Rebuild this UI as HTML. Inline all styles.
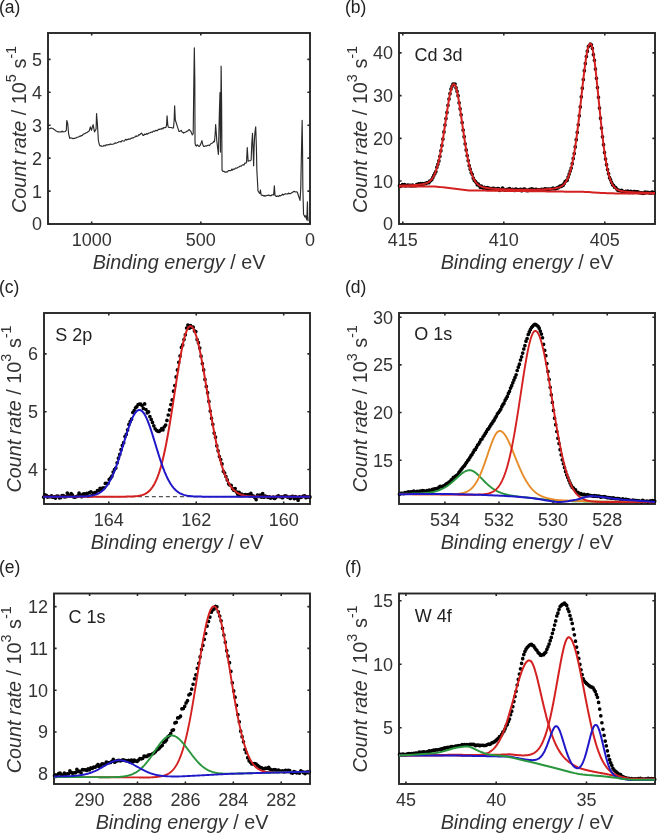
<!DOCTYPE html>
<html><head><meta charset="utf-8"><style>
html,body{margin:0;padding:0;background:#fff;}
svg{display:block;font-family:"Liberation Sans",sans-serif;will-change:transform;}
</style></head><body>
<svg width="658" height="834" viewBox="0 0 658 834" font-family="Liberation Sans">
<rect x="48" y="33" width="262" height="191" fill="none" stroke="#262626" stroke-width="1.9"/>
<path d="M91.67,224v-2.6 M91.67,33v2.6 M200.83,224v-2.6 M200.83,33v2.6 M310,224v-2.6 M310,33v2.6 M48,224h2.6 M310,224h-2.6 M48,191.08h2.6 M310,191.08h-2.6 M48,158.16h2.6 M310,158.16h-2.6 M48,125.24h2.6 M310,125.24h-2.6 M48,92.32h2.6 M310,92.32h-2.6 M48,59.4h2.6 M310,59.4h-2.6" stroke="#262626" stroke-width="1.6" fill="none"/>
<text x="91.67" y="245.9" text-anchor="middle" font-size="18" fill="#333">1000</text>
<text x="200.83" y="245.9" text-anchor="middle" font-size="18" fill="#333">500</text>
<text x="310" y="245.9" text-anchor="middle" font-size="18" fill="#333">0</text>
<text x="42" y="230.45" text-anchor="end" font-size="18" fill="#333">0</text>
<text x="42" y="197.53" text-anchor="end" font-size="18" fill="#333">1</text>
<text x="42" y="164.61" text-anchor="end" font-size="18" fill="#333">2</text>
<text x="42" y="131.69" text-anchor="end" font-size="18" fill="#333">3</text>
<text x="42" y="98.77" text-anchor="end" font-size="18" fill="#333">4</text>
<text x="42" y="65.85" text-anchor="end" font-size="18" fill="#333">5</text>
<text x="179" y="268.7" text-anchor="middle" font-size="19.8" fill="#333"><tspan font-style="italic">Binding energy</tspan> / eV</text>
<text transform="translate(25.8,213) rotate(-90)" x="0" y="0" font-size="19.8" fill="#333"><tspan font-style="italic">Count rate</tspan> / 10<tspan font-size="14.4" dy="-10.2">5</tspan><tspan dy="10.2"> s</tspan><tspan font-size="14.4" dy="-10.2">-1</tspan></text>
<text x="-1" y="13.2" font-size="17.5" fill="#222">(a)</text>
<rect x="399" y="33" width="256" height="191" fill="none" stroke="#262626" stroke-width="1.9"/>
<path d="M402.8,224v-2.6 M402.8,33v2.6 M503.8,224v-2.6 M503.8,33v2.6 M604.8,224v-2.6 M604.8,33v2.6 M399,223.8h2.6 M655,223.8h-2.6 M399,181.07h2.6 M655,181.07h-2.6 M399,138.34h2.6 M655,138.34h-2.6 M399,95.61h2.6 M655,95.61h-2.6 M399,52.88h2.6 M655,52.88h-2.6" stroke="#262626" stroke-width="1.6" fill="none"/>
<text x="402.8" y="245.9" text-anchor="middle" font-size="18" fill="#333">415</text>
<text x="503.8" y="245.9" text-anchor="middle" font-size="18" fill="#333">410</text>
<text x="604.8" y="245.9" text-anchor="middle" font-size="18" fill="#333">405</text>
<text x="393" y="230.25" text-anchor="end" font-size="18" fill="#333">0</text>
<text x="393" y="187.52" text-anchor="end" font-size="18" fill="#333">10</text>
<text x="393" y="144.79" text-anchor="end" font-size="18" fill="#333">20</text>
<text x="393" y="102.06" text-anchor="end" font-size="18" fill="#333">30</text>
<text x="393" y="59.33" text-anchor="end" font-size="18" fill="#333">40</text>
<text x="527" y="268.7" text-anchor="middle" font-size="19.8" fill="#333"><tspan font-style="italic">Binding energy</tspan> / eV</text>
<text transform="translate(366.7,213) rotate(-90)" x="0" y="0" font-size="19.8" fill="#333"><tspan font-style="italic">Count rate</tspan> / 10<tspan font-size="14.4" dy="-10.2">3</tspan><tspan dy="10.2"> s</tspan><tspan font-size="14.4" dy="-10.2">-1</tspan></text>
<text x="345" y="13.2" font-size="17.5" fill="#222">(b)</text>
<rect x="44" y="313" width="266" height="191" fill="none" stroke="#262626" stroke-width="1.9"/>
<path d="M108.8,504v-2.6 M108.8,313v2.6 M196.24,504v-2.6 M196.24,313v2.6 M283.68,504v-2.6 M283.68,313v2.6 M44,469.5h2.6 M310,469.5h-2.6 M44,411.7h2.6 M310,411.7h-2.6 M44,353.9h2.6 M310,353.9h-2.6" stroke="#262626" stroke-width="1.6" fill="none"/>
<text x="108.8" y="525.9" text-anchor="middle" font-size="18" fill="#333">164</text>
<text x="196.24" y="525.9" text-anchor="middle" font-size="18" fill="#333">162</text>
<text x="283.68" y="525.9" text-anchor="middle" font-size="18" fill="#333">160</text>
<text x="38" y="475.95" text-anchor="end" font-size="18" fill="#333">4</text>
<text x="38" y="418.15" text-anchor="end" font-size="18" fill="#333">5</text>
<text x="38" y="360.35" text-anchor="end" font-size="18" fill="#333">6</text>
<text x="177" y="548.7" text-anchor="middle" font-size="19.8" fill="#333"><tspan font-style="italic">Binding energy</tspan> / eV</text>
<text transform="translate(21.4,492.5) rotate(-90)" x="0" y="0" font-size="19.8" fill="#333"><tspan font-style="italic">Count rate</tspan> / 10<tspan font-size="14.4" dy="-10.2">3</tspan><tspan dy="10.2"> s</tspan><tspan font-size="14.4" dy="-10.2">-1</tspan></text>
<text x="-1" y="293.2" font-size="17.5" fill="#222">(c)</text>
<rect x="399" y="313" width="256" height="191" fill="none" stroke="#262626" stroke-width="1.9"/>
<path d="M444.9,504v-2.6 M444.9,313v2.6 M499,504v-2.6 M499,313v2.6 M553.1,504v-2.6 M553.1,313v2.6 M607.2,504v-2.6 M607.2,313v2.6 M399,460.2h2.6 M655,460.2h-2.6 M399,412.55h2.6 M655,412.55h-2.6 M399,364.9h2.6 M655,364.9h-2.6 M399,317.25h2.6 M655,317.25h-2.6" stroke="#262626" stroke-width="1.6" fill="none"/>
<text x="444.9" y="525.9" text-anchor="middle" font-size="18" fill="#333">534</text>
<text x="499" y="525.9" text-anchor="middle" font-size="18" fill="#333">532</text>
<text x="553.1" y="525.9" text-anchor="middle" font-size="18" fill="#333">530</text>
<text x="607.2" y="525.9" text-anchor="middle" font-size="18" fill="#333">528</text>
<text x="393" y="466.65" text-anchor="end" font-size="18" fill="#333">15</text>
<text x="393" y="419" text-anchor="end" font-size="18" fill="#333">20</text>
<text x="393" y="371.35" text-anchor="end" font-size="18" fill="#333">25</text>
<text x="393" y="323.7" text-anchor="end" font-size="18" fill="#333">30</text>
<text x="527" y="548.7" text-anchor="middle" font-size="19.8" fill="#333"><tspan font-style="italic">Binding energy</tspan> / eV</text>
<text transform="translate(366.7,492.2) rotate(-90)" x="0" y="0" font-size="19.8" fill="#333"><tspan font-style="italic">Count rate</tspan> / 10<tspan font-size="14.4" dy="-10.2">3</tspan><tspan dy="10.2"> s</tspan><tspan font-size="14.4" dy="-10.2">-1</tspan></text>
<text x="345" y="293.2" font-size="17.5" fill="#222">(d)</text>
<rect x="54" y="593.5" width="256" height="190.5" fill="none" stroke="#262626" stroke-width="1.9"/>
<path d="M89.6,784v-2.6 M89.6,593.5v2.6 M137.5,784v-2.6 M137.5,593.5v2.6 M185.4,784v-2.6 M185.4,593.5v2.6 M233.3,784v-2.6 M233.3,593.5v2.6 M281.2,784v-2.6 M281.2,593.5v2.6 M54,773.8h2.6 M310,773.8h-2.6 M54,732h2.6 M310,732h-2.6 M54,690.2h2.6 M310,690.2h-2.6 M54,648.4h2.6 M310,648.4h-2.6 M54,606.6h2.6 M310,606.6h-2.6" stroke="#262626" stroke-width="1.6" fill="none"/>
<text x="89.6" y="805.9" text-anchor="middle" font-size="18" fill="#333">290</text>
<text x="137.5" y="805.9" text-anchor="middle" font-size="18" fill="#333">288</text>
<text x="185.4" y="805.9" text-anchor="middle" font-size="18" fill="#333">286</text>
<text x="233.3" y="805.9" text-anchor="middle" font-size="18" fill="#333">284</text>
<text x="281.2" y="805.9" text-anchor="middle" font-size="18" fill="#333">282</text>
<text x="48" y="780.25" text-anchor="end" font-size="18" fill="#333">8</text>
<text x="48" y="738.45" text-anchor="end" font-size="18" fill="#333">9</text>
<text x="48" y="696.65" text-anchor="end" font-size="18" fill="#333">10</text>
<text x="48" y="654.85" text-anchor="end" font-size="18" fill="#333">11</text>
<text x="48" y="613.05" text-anchor="end" font-size="18" fill="#333">12</text>
<text x="182" y="828.7" text-anchor="middle" font-size="19.8" fill="#333"><tspan font-style="italic">Binding energy</tspan> / eV</text>
<text transform="translate(21.4,773.3) rotate(-90)" x="0" y="0" font-size="19.8" fill="#333"><tspan font-style="italic">Count rate</tspan> / 10<tspan font-size="14.4" dy="-10.2">3</tspan><tspan dy="10.2"> s</tspan><tspan font-size="14.4" dy="-10.2">-1</tspan></text>
<text x="-1" y="573.2" font-size="17.5" fill="#222">(e)</text>
<rect x="399" y="593.5" width="256" height="190.5" fill="none" stroke="#262626" stroke-width="1.9"/>
<path d="M405.9,784v-2.6 M405.9,593.5v2.6 M496.2,784v-2.6 M496.2,593.5v2.6 M586.5,784v-2.6 M586.5,593.5v2.6 M399,727.8h2.6 M655,727.8h-2.6 M399,664.3h2.6 M655,664.3h-2.6 M399,600.8h2.6 M655,600.8h-2.6" stroke="#262626" stroke-width="1.6" fill="none"/>
<text x="405.9" y="805.9" text-anchor="middle" font-size="18" fill="#333">45</text>
<text x="496.2" y="805.9" text-anchor="middle" font-size="18" fill="#333">40</text>
<text x="586.5" y="805.9" text-anchor="middle" font-size="18" fill="#333">35</text>
<text x="393" y="734.25" text-anchor="end" font-size="18" fill="#333">5</text>
<text x="393" y="670.75" text-anchor="end" font-size="18" fill="#333">10</text>
<text x="393" y="607.25" text-anchor="end" font-size="18" fill="#333">15</text>
<text x="527" y="828.7" text-anchor="middle" font-size="19.8" fill="#333"><tspan font-style="italic">Binding energy</tspan> / eV</text>
<text transform="translate(366.7,772.5) rotate(-90)" x="0" y="0" font-size="19.8" fill="#333"><tspan font-style="italic">Count rate</tspan> / 10<tspan font-size="14.4" dy="-10.2">3</tspan><tspan dy="10.2"> s</tspan><tspan font-size="14.4" dy="-10.2">-1</tspan></text>
<text x="345" y="573.2" font-size="17.5" fill="#222">(f)</text>
<path d="M48,129.18 L48.86,128.8 L49.72,128.78 L50.58,128.24 L51.43,128.03 L52.2,128.3 L52.96,128.47 L53.72,129.18 L54.58,129.67 L55.44,130.71 L56.3,131.04 L57.16,131.47 L58.02,131.94 L58.88,131.78 L59.74,131.95 L60.59,131.92 L61.36,131.91 L62.12,131.19 L62.88,131.99 L63.65,131.8 L64.41,131.72 L65.17,131.47 L66.32,130.32 L66.78,120.47 L67.69,123.45 L68.61,133.76 L69.75,138.34 L70.61,137.86 L71.47,137.95 L72.33,138.37 L73.19,138.79 L73.95,138.36 L74.72,138.37 L75.48,137.98 L76.24,137.91 L77.01,137.23 L77.77,137.19 L78.53,136.92 L79.3,136.57 L80.06,135.81 L80.82,136.27 L81.59,135.48 L82.35,135.32 L83.11,134.3 L83.88,133.88 L84.64,133.76 L85.4,133.18 L86.17,132.8 L86.93,132.6 L87.69,132.01 L88.45,131.31 L89.22,131.01 L90.36,126.89 L91.51,130.32 L92.31,127.12 L93.11,124.6 L94.49,131.92 L95.29,130.37 L96.09,129.18 L96.55,113.6 L97.46,124.6 L98.38,140.63 L99.52,145.21 L100.29,146.01 L101.05,145.69 L101.81,146.35 L102.52,146.27 L103.23,146.17 L103.94,145.34 L104.65,145.71 L105.36,145.99 L106.07,144.66 L106.77,145.09 L107.48,145 L108.19,144.59 L108.9,144.89 L109.61,144.53 L110.32,143.87 L111.03,144.51 L111.74,144.29 L112.44,144.23 L113.15,144.24 L113.86,143.7 L114.57,143.45 L115.28,142.79 L115.99,143.29 L116.7,142.92 L117.41,142.49 L118.13,142.33 L118.84,141.83 L119.56,141.72 L120.28,141.66 L120.99,142.08 L121.71,140.7 L122.42,140.69 L123.14,141.07 L123.85,141.27 L124.57,140.76 L125.28,139.67 L126,139.24 L126.72,140.03 L127.43,139.44 L128.15,139.48 L128.86,138.8 L129.58,139.25 L130.29,139.01 L131.01,138.39 L131.72,138.14 L132.44,137.92 L133.16,138.03 L133.87,137.41 L134.59,137.09 L135.3,136.81 L136.02,135.78 L136.73,136.49 L137.45,136.09 L138.16,135.66 L138.88,134.5 L139.6,134.9 L140.74,133.76 L141.43,133.07 L142.23,133.99 L143.03,135.36 L143.76,135.36 L144.49,134.14 L145.22,134.42 L145.95,134.55 L146.67,133.44 L147.4,134.17 L148.13,133.51 L148.86,132.97 L149.59,132.85 L150.32,132.67 L151.05,132.15 L151.75,131.97 L152.46,132.1 L153.17,131.23 L153.88,131.09 L154.59,131.37 L155.3,130.79 L156.01,130.24 L156.72,130.65 L157.42,130.6 L158.13,129.71 L158.84,129.15 L159.55,129.36 L160.26,129.12 L160.97,128.84 L161.68,129.21 L162.39,128.13 L163.09,128.7 L163.8,127.59 L164.51,127.53 L165.22,127.79 L165.93,127.34 L166.62,124.6 L167.07,115.89 L167.76,124.6 L168.22,126.89 L168.97,127.44 L169.72,127.51 L170.48,127.5 L171.23,127.59 L171.98,127.76 L172.73,128.07 L173.49,128.03 L174.17,120.02 L174.63,105.82 L175.32,120.02 L176.05,122.24 L176.79,124.69 L177.53,127.09 L178.26,129.18 L179,131.47 L179.76,131.35 L180.53,130.9 L181.29,130.32 L182.05,131.94 L182.82,132.27 L183.58,133.07 L184.34,132.54 L185.11,132.18 L185.87,131.92 L186.73,131.35 L187.59,131.1 L188.45,130.09 L189.3,129.63 L190.11,130.68 L190.91,131.47 L192.28,134.9 L193.2,133.76 L193.88,78.8 L194.34,47.88 L194.8,78.8 L195.03,142.92 L195.49,145.21 L196.31,146.08 L197.14,144.77 L197.96,145.5 L198.78,146.21 L199.61,146.35 L200.75,144.06 L201.9,140.63 L202.81,144.75 L203.73,146.35 L204.45,146.33 L205.17,146.11 L205.89,145.71 L206.61,145.93 L207.33,145.63 L208.05,145.19 L208.77,145.21 L209.48,145.63 L210.2,144.47 L210.92,143.72 L211.63,143.45 L212.35,142.98 L213.06,142.61 L213.78,141.24 L214.49,141.77 L215.18,133.76 L215.64,124.6 L216.33,133.76 L216.78,140.63 L217.58,147.32 L218.39,154.36 L218.84,136.05 L219.3,115.44 L219.99,92.54 L220.45,152.07 L220.68,124.6 L221.13,66.2 L221.59,101.7 L222.05,170.39 L222.97,171.36 L223.88,171.21 L224.8,172.23 L225.5,171.97 L226.21,172.1 L226.91,171.84 L227.62,171.83 L228.32,170.49 L229.03,170.73 L229.73,170.5 L230.43,170.61 L231.14,170.55 L231.84,169 L232.55,170.09 L233.25,168.97 L233.96,169.25 L234.66,169.14 L235.37,168.02 L236.07,168.25 L236.78,168.26 L237.48,167.44 L238.19,167.2 L238.89,167.06 L239.59,166.48 L240.3,166.05 L241,166.26 L241.71,165.74 L242.41,164.92 L243.12,164.67 L243.98,165.06 L244.83,163.12 L245.69,163.27 L246.55,162.38 L247.24,147.5 L248.16,161.23 L248.9,160.86 L249.64,160.71 L250.39,160.62 L251.13,160.09 L251.82,142.92 L252.51,133.3 L253.19,152.07 L253.65,165.81 L254.11,147.5 L254.57,137.19 L255.02,131.47 L255.71,126.89 L256.4,147.5 L256.86,170.39 L258,191 L258.8,192.23 L259.6,193.29 L259.74,193.45 L260.43,189.97 L261.13,194.84 L262.05,195.53 L262.98,195.23 L263.91,196.23 L264.74,195.56 L265.58,196.17 L266.41,195.48 L267.25,195.32 L268.08,195.54 L268.88,194.92 L269.67,195.78 L270.46,195.5 L271.26,195.65 L272.05,194.71 L272.85,194.94 L273.64,194.84 L274.34,185.8 L275.03,195.54 L276.43,196.51 L277.18,195.89 L277.94,196.35 L278.7,196.42 L279.46,195.34 L280.22,195.98 L280.98,195.57 L281.74,194.94 L282.49,194.1 L283.25,195.07 L284.01,194.33 L284.77,194.14 L285.54,193.78 L286.32,193.98 L287.09,193.82 L287.86,194.05 L288.63,193.01 L289.41,193.62 L290.18,193.58 L290.95,193.42 L291.72,192.75 L292.65,192.23 L293.58,191.57 L294.51,191.36 L295.43,191.95 L296.36,191.87 L297.29,192.06 L298.68,196.23 L300.07,200.4 L300.76,187.89 L301.18,165.63 L302.16,120.43 L302.57,151.72 L302.85,187.89 L303.55,214.31 L304.94,217.09 L305.63,215.7 L306.33,218.48 L306.75,219.87 L307.02,212.92 L307.44,201.79 L307.72,215.7 L308.14,221.27" stroke="#2a2a2a" stroke-width="1.15" fill="none" stroke-linejoin="round" />
<path d="M399.5,185.72h0 M400.51,186.28h0 M401.52,185.5h0 M402.53,184.55h0 M403.54,185.38h0 M404.55,184.69h0 M405.56,185.86h0 M406.57,185.6h0 M407.58,185.14h0 M408.59,185.37h0 M409.6,185.7h0 M410.61,185.32h0 M411.62,185.83h0 M412.63,185.15h0 M413.64,185.59h0 M414.65,185.73h0 M415.66,185.71h0 M416.67,184.61h0 M417.68,185.22h0 M418.69,183.89h0 M419.7,184.14h0 M420.71,183.62h0 M421.72,184.84h0 M422.73,183.64h0 M423.74,183.98h0 M424.75,183.65h0 M425.76,183.42h0 M426.77,182.78h0 M427.78,182.67h0 M428.79,182.77h0 M429.8,181.22h0 M430.81,180.49h0 M431.82,179.51h0 M432.83,177.51h0 M433.84,175.24h0 M434.85,173.38h0 M435.86,171.51h0 M436.87,167.29h0 M437.88,164.26h0 M438.89,160.94h0 M439.9,156.25h0 M440.91,150.75h0 M441.92,145.44h0 M442.93,139.03h0 M443.94,131.93h0 M444.95,125h0 M445.96,118.55h0 M446.97,112.44h0 M447.98,105.23h0 M448.99,99.01h0 M450,93.72h0 M451.01,88.98h0 M452.02,86.37h0 M453.03,84.01h0 M454.04,84.26h0 M455.05,84.11h0 M456.06,87.85h0 M457.07,91.28h0 M458.08,95.67h0 M459.09,102.73h0 M460.1,108.78h0 M461.11,114.8h0 M462.12,122.49h0 M463.13,130.08h0 M464.14,136.64h0 M465.15,143.78h0 M466.16,149.93h0 M467.17,155.57h0 M468.18,160.57h0 M469.19,165.59h0 M470.2,169.22h0 M471.21,172.53h0 M472.22,174.29h0 M473.23,178.08h0 M474.24,180.3h0 M475.25,181.26h0 M476.26,182.55h0 M477.27,184.75h0 M478.28,183.99h0 M479.29,185.71h0 M480.3,187.17h0 M481.31,186.14h0 M482.32,187.25h0 M483.33,188.1h0 M484.34,187.45h0 M485.35,187.98h0 M486.36,188.31h0 M487.37,187.66h0 M488.38,188.17h0 M489.39,188.46h0 M490.4,188.82h0 M491.41,188.53h0 M492.42,188.55h0 M493.43,188.27h0 M494.44,188.64h0 M495.45,189.28h0 M496.46,188.99h0 M497.47,188.63h0 M498.48,188.69h0 M499.49,190.33h0 M500.5,189.69h0 M501.51,189.52h0 M502.52,188.11h0 M503.53,189.6h0 M504.54,189.58h0 M505.55,190.16h0 M506.56,189.63h0 M507.57,189.44h0 M508.58,189.73h0 M509.59,188.65h0 M510.6,190.02h0 M511.61,189.73h0 M512.62,189.29h0 M513.63,190.22h0 M514.64,190.46h0 M515.65,189.03h0 M516.66,189.38h0 M517.67,189.82h0 M518.68,189.79h0 M519.69,189.54h0 M520.7,189.29h0 M521.71,190.69h0 M522.72,190.21h0 M523.73,189.21h0 M524.74,189.14h0 M525.75,190.52h0 M526.76,190.19h0 M527.77,190.56h0 M528.78,190.11h0 M529.79,189.34h0 M530.8,189.84h0 M531.81,188.74h0 M532.82,189.37h0 M533.83,189.66h0 M534.84,189.91h0 M535.85,189.32h0 M536.86,189.57h0 M537.87,189.81h0 M538.88,189.75h0 M539.89,189.83h0 M540.9,189.61h0 M541.91,189.33h0 M542.92,189.79h0 M543.93,189.41h0 M544.94,188.96h0 M545.95,189h0 M546.96,189.22h0 M547.97,189.1h0 M548.98,189.15h0 M549.99,188.99h0 M551,188.98h0 M552.01,188.73h0 M553.02,188.11h0 M554.03,188.72h0 M555.04,188.85h0 M556.05,188.38h0 M557.06,187.86h0 M558.07,187.87h0 M559.08,186.9h0 M560.09,186.06h0 M561.1,186.43h0 M562.11,185.34h0 M563.12,185.3h0 M564.13,183.49h0 M565.14,181.58h0 M566.15,180.8h0 M567.16,180.16h0 M568.17,177.07h0 M569.18,173.98h0 M570.19,171.11h0 M571.2,167.99h0 M572.21,163.69h0 M573.22,158.6h0 M574.23,153.59h0 M575.24,146.96h0 M576.25,139.69h0 M577.26,132.4h0 M578.27,124.74h0 M579.28,115.84h0 M580.29,106.92h0 M581.3,96.84h0 M582.31,88.14h0 M583.32,79.61h0 M584.33,70.68h0 M585.34,63.53h0 M586.35,56.53h0 M587.36,51.15h0 M588.37,46.58h0 M589.38,45.39h0 M590.39,44.14h0 M591.4,44.81h0 M592.41,48.32h0 M593.42,54.7h0 M594.43,60.26h0 M595.44,69h0 M596.45,78.23h0 M597.46,87.62h0 M598.47,97.26h0 M599.48,108.07h0 M600.49,118.13h0 M601.5,128.01h0 M602.51,136.81h0 M603.52,144.71h0 M604.53,152.53h0 M605.54,159.02h0 M606.55,164.66h0 M607.56,169.59h0 M608.57,173.69h0 M609.58,177.66h0 M610.59,179.82h0 M611.6,182.4h0 M612.61,184.63h0 M613.62,185.52h0 M614.63,187.22h0 M615.64,187.49h0 M616.65,188.86h0 M617.66,190.01h0 M618.67,190.47h0 M619.68,190.54h0 M620.69,190.75h0 M621.7,190.45h0 M622.71,192.1h0 M623.72,191.66h0 M624.73,192.06h0 M625.74,191.29h0 M626.75,191.7h0 M627.76,191.06h0 M628.77,192.31h0 M629.78,192.46h0 M630.79,191.25h0 M631.8,192.15h0 M632.81,192.52h0 M633.82,191.5h0 M634.83,191.52h0 M635.84,191.92h0 M636.85,192.16h0 M637.86,191.86h0 M638.87,192.54h0 M639.88,192.68h0 M640.89,192.89h0 M641.9,192.96h0 M642.91,193.36h0 M643.92,193.24h0 M644.93,192.15h0 M645.94,192.55h0 M646.95,192.32h0 M647.96,192.34h0 M648.97,192.82h0 M649.98,192.88h0 M650.99,193.12h0 M652,192.21h0 M653.01,192.39h0 M654.02,192.96h0" stroke="#000" stroke-width="3.7" stroke-linecap="round" fill="none"/>
<path d="M399,185.68 L399.5,185.67 L400,185.65 L400.5,185.64 L401,185.63 L401.5,185.61 L402,185.6 L402.5,185.59 L403,185.57 L403.5,185.56 L404,185.54 L404.5,185.53 L405,185.51 L405.5,185.49 L406,185.47 L406.5,185.46 L407,185.44 L407.5,185.42 L408,185.4 L408.5,185.38 L409,185.36 L409.5,185.33 L410,185.31 L410.5,185.29 L411,185.26 L411.5,185.24 L412,185.21 L412.5,185.18 L413,185.16 L413.5,185.13 L414,185.1 L414.5,185.06 L415,185.03 L415.5,185 L416,184.96 L416.5,184.92 L417,184.88 L417.5,184.84 L418,184.8 L418.5,184.75 L419,184.7 L419.5,184.65 L420,184.59 L420.5,184.53 L421,184.46 L421.5,184.39 L422,184.32 L422.5,184.23 L423,184.14 L423.5,184.04 L424,183.93 L424.5,183.8 L425,183.67 L425.5,183.52 L426,183.35 L426.5,183.16 L427,182.95 L427.5,182.71 L428,182.45 L428.5,182.15 L429,181.82 L429.5,181.44 L430,181.03 L430.5,180.56 L431,180.04 L431.5,179.47 L432,178.82 L432.5,178.11 L433,177.32 L433.5,176.45 L434,175.49 L434.5,174.43 L435,173.27 L435.5,172 L436,170.62 L436.5,169.18 L437,167.61 L437.5,165.91 L438,164.08 L438.5,162.12 L439,160.02 L439.5,157.78 L440,155.41 L440.5,152.9 L441,150.26 L441.5,147.5 L442,144.61 L442.5,141.62 L443,138.52 L443.5,135.33 L444,132.06 L444.5,128.74 L445,125.36 L445.5,121.96 L446,118.56 L446.5,115.17 L447,111.83 L447.5,108.55 L448,105.36 L448.5,102.29 L449,99.36 L449.5,96.61 L450,94.07 L450.5,91.76 L451,89.7 L451.5,87.94 L452,86.48 L452.5,85.35 L453,84.57 L453.5,84.15 L454,84.09 L454.5,84.4 L455,85.08 L455.5,86.12 L456,87.52 L456.5,89.23 L457,91.26 L457.5,93.56 L458,96.11 L458.5,98.89 L459,101.85 L459.5,104.98 L460,108.24 L460.5,111.6 L461,115.04 L461.5,118.53 L462,122.04 L462.5,125.56 L463,129.05 L463.5,132.51 L464,135.9 L464.5,139.23 L465,142.47 L465.5,145.61 L466,148.64 L466.5,151.56 L467,154.35 L467.5,157.01 L468,159.54 L468.5,161.93 L469,164.19 L469.5,166.26 L470,168.19 L470.5,169.99 L471,171.66 L471.5,173.21 L472,174.64 L472.5,175.95 L473,177.15 L473.5,178.25 L474,179.26 L474.5,180.17 L475,181 L475.5,181.76 L476,182.44 L476.5,183.05 L477,183.6 L477.5,184.1 L478,184.55 L478.5,184.95 L479,185.31 L479.5,185.63 L480,185.92 L480.5,186.18 L481,186.42 L481.5,186.63 L482,186.82 L482.5,187 L483,187.15 L483.5,187.29 L484,187.42 L484.5,187.54 L485,187.65 L485.5,187.75 L486,187.85 L486.5,187.93 L487,188.01 L487.5,188.09 L488,188.16 L488.5,188.22 L489,188.29 L489.5,188.35 L490,188.4 L490.5,188.46 L491,188.51 L491.5,188.56 L492,188.6 L492.5,188.65 L493,188.69 L493.5,188.73 L494,188.77 L494.5,188.81 L495,188.85 L495.5,188.88 L496,188.92 L496.5,188.95 L497,188.98 L497.5,189.01 L498,189.04 L498.5,189.07 L499,189.1 L499.5,189.13 L500,189.15 L500.5,189.18 L501,189.21 L501.5,189.23 L502,189.25 L502.5,189.28 L503,189.3 L503.5,189.32 L504,189.34 L504.5,189.36 L505,189.38 L505.5,189.4 L506,189.41 L506.5,189.43 L507,189.45 L507.5,189.46 L508,189.48 L508.5,189.5 L509,189.51 L509.5,189.52 L510,189.54 L510.5,189.55 L511,189.56 L511.5,189.58 L512,189.59 L512.5,189.6 L513,189.61 L513.5,189.62 L514,189.63 L514.5,189.64 L515,189.65 L515.5,189.66 L516,189.67 L516.5,189.68 L517,189.68 L517.5,189.69 L518,189.7 L518.5,189.7 L519,189.71 L519.5,189.71 L520,189.72 L520.5,189.72 L521,189.73 L521.5,189.73 L522,189.74 L522.5,189.74 L523,189.74 L523.5,189.74 L524,189.75 L524.5,189.75 L525,189.75 L525.5,189.75 L526,189.75 L526.5,189.75 L527,189.75 L527.5,189.75 L528,189.74 L528.5,189.74 L529,189.74 L529.5,189.74 L530,189.73 L530.5,189.73 L531,189.72 L531.5,189.72 L532,189.71 L532.5,189.71 L533,189.7 L533.5,189.69 L534,189.69 L534.5,189.68 L535,189.67 L535.5,189.66 L536,189.65 L536.5,189.64 L537,189.63 L537.5,189.61 L538,189.6 L538.5,189.59 L539,189.57 L539.5,189.56 L540,189.54 L540.5,189.53 L541,189.51 L541.5,189.49 L542,189.47 L542.5,189.45 L543,189.43 L543.5,189.41 L544,189.38 L544.5,189.36 L545,189.33 L545.5,189.3 L546,189.28 L546.5,189.25 L547,189.22 L547.5,189.18 L548,189.15 L548.5,189.11 L549,189.07 L549.5,189.03 L550,188.99 L550.5,188.95 L551,188.9 L551.5,188.85 L552,188.79 L552.5,188.74 L553,188.68 L553.5,188.61 L554,188.54 L554.5,188.46 L555,188.38 L555.5,188.29 L556,188.19 L556.5,188.08 L557,187.96 L557.5,187.84 L558,187.69 L558.5,187.54 L559,187.36 L559.5,187.17 L560,186.96 L560.5,186.72 L561,186.46 L561.5,186.16 L562,185.84 L562.5,185.47 L563,185.07 L563.5,184.62 L564,184.12 L564.5,183.56 L565,182.95 L565.5,182.27 L566,181.51 L566.5,180.68 L567,179.76 L567.5,178.75 L568,177.64 L568.5,176.43 L569,175.1 L569.5,173.66 L570,172.09 L570.5,170.38 L571,168.54 L571.5,166.55 L572,164.41 L572.5,162.11 L573,159.66 L573.5,157.04 L574,154.26 L574.5,151.31 L575,148.19 L575.5,144.92 L576,141.48 L576.5,137.88 L577,134.13 L577.5,130.24 L578,126.22 L578.5,122.08 L579,117.82 L579.5,113.48 L580,109.05 L580.5,104.57 L581,100.05 L581.5,95.52 L582,90.99 L582.5,86.5 L583,82.07 L583.5,77.74 L584,73.52 L584.5,69.45 L585,65.57 L585.5,61.9 L586,58.48 L586.5,55.36 L587,52.55 L587.5,50.08 L588,47.98 L588.5,46.26 L589,44.96 L589.5,44.07 L590,43.62 L590.5,43.62 L591,44.13 L591.5,45.15 L592,46.67 L592.5,48.67 L593,51.14 L593.5,54.02 L594,57.31 L594.5,60.94 L595,64.9 L595.5,69.13 L596,73.6 L596.5,78.26 L597,83.08 L597.5,88.02 L598,93.03 L598.5,98.08 L599,103.15 L599.5,108.19 L600,113.17 L600.5,118.06 L601,122.85 L601.5,127.51 L602,132.02 L602.5,136.37 L603,140.55 L603.5,144.54 L604,148.34 L604.5,151.94 L605,155.34 L605.5,158.53 L606,161.52 L606.5,164.3 L607,166.89 L607.5,169.29 L608,171.5 L608.5,173.53 L609,175.4 L609.5,177.1 L610,178.65 L610.5,180.05 L611,181.32 L611.5,182.47 L612,183.51 L612.5,184.44 L613,185.27 L613.5,186.01 L614,186.68 L614.5,187.27 L615,187.8 L615.5,188.27 L616,188.69 L616.5,189.06 L617,189.4 L617.5,189.67 L618,189.92 L618.5,190.14 L619,190.34 L619.5,190.51 L620,190.67 L620.5,190.81 L621,190.93 L621.5,191.04 L622,191.14 L622.5,191.24 L623,191.32 L623.5,191.4 L624,191.47 L624.5,191.54 L625,191.6 L625.5,191.66 L626,191.71 L626.5,191.76 L627,191.81 L627.5,191.85 L628,191.9 L628.5,191.94 L629,191.98 L629.5,192.02 L630,192.05 L630.5,192.09 L631,192.12 L631.5,192.15 L632,192.19 L632.5,192.22 L633,192.25 L633.5,192.27 L634,192.3 L634.5,192.33 L635,192.35 L635.5,192.38 L636,192.4 L636.5,192.43 L637,192.45 L637.5,192.47 L638,192.49 L638.5,192.52 L639,192.54 L639.5,192.56 L640,192.58 L640.5,192.59 L641,192.61 L641.5,192.63 L642,192.65 L642.5,192.67 L643,192.68 L643.5,192.7 L644,192.71 L644.5,192.73 L645,192.75 L645.5,192.76 L646,192.78 L646.5,192.79 L647,192.8 L647.5,192.82 L648,192.83 L648.5,192.84 L649,192.86 L649.5,192.87 L650,192.88 L650.5,192.89 L651,192.9 L651.5,192.92 L652,192.93 L652.5,192.94 L653,192.95 L653.5,192.96 L654,192.97 L654.5,192.98 L655,192.99" stroke="#d42020" stroke-width="2.0" fill="none" stroke-linejoin="round" />
<path d="M399,186.5 L401,186.51 L403,186.51 L405,186.52 L407,186.52 L409,186.53 L411,186.53 L413,186.54 L415,186.54 L417,186.55 L419,186.55 L421,186.56 L423,186.56 L425,186.57 L427,186.58 L429,186.58 L431,186.59 L433,186.59 L435,186.6 L437,186.71 L439,186.92 L441,187.13 L443,187.34 L445,187.56 L447,187.77 L449,187.98 L451,188.19 L453,188.42 L455,188.67 L457,188.92 L459,189.16 L461,189.41 L463,189.66 L465,189.91 L467,190.15 L469,190.4 L471,190.43 L473,190.45 L475,190.48 L477,190.5 L479,190.53 L481,190.55 L483,190.58 L485,190.61 L487,190.63 L489,190.66 L491,190.68 L493,190.71 L495,190.73 L497,190.76 L499,190.78 L501,190.81 L503,190.84 L505,190.86 L507,190.89 L509,190.91 L511,190.94 L513,190.96 L515,190.99 L517,191.02 L519,191.04 L521,191.07 L523,191.09 L525,191.12 L527,191.14 L529,191.17 L531,191.19 L533,191.22 L535,191.25 L537,191.27 L539,191.3 L541,191.32 L543,191.35 L545,191.37 L547,191.4 L549,191.43 L551,191.45 L553,191.48 L555,191.5 L557,191.53 L559,191.55 L561,191.58 L563,191.61 L565,191.63 L567,191.66 L569,191.68 L571,191.71 L573,191.73 L575,191.76 L577,191.78 L579,191.81 L581,191.84 L583,191.86 L585,191.89 L587,191.97 L589,192.11 L591,192.26 L593,192.4 L595,192.54 L597,192.69 L599,192.83 L601,192.94 L603,193.01 L605,193.08 L607,193.15 L609,193.22 L611,193.29 L613,193.36 L615,193.43 L617,193.5 L619,193.51 L621,193.51 L623,193.52 L625,193.52 L627,193.53 L629,193.53 L631,193.54 L633,193.54 L635,193.55 L637,193.55 L639,193.56 L641,193.56 L643,193.57 L645,193.57 L647,193.58 L649,193.58 L651,193.59 L653,193.59 L655,193.6" stroke="#d42020" stroke-width="2.0" fill="none" stroke-linejoin="round" />
<path d="M309.91,496.67 L43.22,496.67" stroke="#555" stroke-width="1.2" fill="none" stroke-linejoin="round" stroke-dasharray="4,3"/>
<path d="M309.91,496.92h0 M308.6,497.06h0 M307.29,496.75h0 M305.98,497.63h0 M304.67,495.77h0 M303.35,496.22h0 M302.04,496.78h0 M300.73,497.52h0 M299.42,496.89h0 M298.11,500.13h0 M296.8,497.91h0 M295.48,496.62h0 M294.17,498.58h0 M292.86,496.41h0 M291.55,496.48h0 M290.24,498.42h0 M288.93,496.98h0 M287.61,497.07h0 M286.3,496.08h0 M284.99,495.89h0 M283.68,496.71h0 M282.37,497.75h0 M281.06,496.85h0 M279.75,496.75h0 M278.43,495.73h0 M277.12,496.29h0 M275.81,497.58h0 M274.5,498.39h0 M273.19,497.14h0 M271.88,497.61h0 M270.56,498.08h0 M269.25,496.81h0 M267.94,497.28h0 M266.63,496.52h0 M265.32,495.99h0 M264.01,497.18h0 M262.69,493.69h0 M261.38,497.04h0 M260.07,495.22h0 M258.76,496.46h0 M257.45,495.17h0 M256.14,499.59h0 M254.82,497.48h0 M253.51,496.17h0 M252.2,495.66h0 M250.89,493.38h0 M249.58,495.84h0 M248.27,494.5h0 M246.96,494.99h0 M245.64,494.56h0 M244.33,494.86h0 M243.02,495.4h0 M241.71,494.17h0 M240.4,495.71h0 M239.09,492.26h0 M237.77,494.35h0 M236.46,491.9h0 M235.15,488.51h0 M233.84,490.29h0 M232.53,488.57h0 M231.22,485.46h0 M229.9,484.98h0 M228.59,483.81h0 M227.28,479.9h0 M225.97,476.57h0 M224.66,473.11h0 M223.35,471.3h0 M222.03,463.96h0 M220.72,459.5h0 M219.41,456.59h0 M218.1,450.81h0 M216.79,445.8h0 M215.48,437.14h0 M214.17,433.12h0 M212.85,424.29h0 M211.54,418.37h0 M210.23,411h0 M208.92,401.39h0 M207.61,392.68h0 M206.3,386.46h0 M204.98,379.45h0 M203.67,369.89h0 M202.36,363.6h0 M201.05,356.15h0 M199.74,348.11h0 M198.43,342.71h0 M197.11,339.6h0 M195.8,331.59h0 M194.49,330.89h0 M193.18,327.2h0 M191.87,327.27h0 M190.56,325.71h0 M189.24,328.13h0 M187.93,325h0 M186.62,327.99h0 M185.31,334.75h0 M184,339.53h0 M182.69,344.92h0 M181.38,347.32h0 M180.06,355.91h0 M178.75,362.35h0 M177.44,369.88h0 M176.13,376.97h0 M174.82,385.5h0 M173.51,391.22h0 M172.19,399.9h0 M170.88,404.56h0 M169.57,409.94h0 M168.26,414.98h0 M166.95,420.42h0 M165.64,425.08h0 M164.32,426.76h0 M163.01,429.81h0 M161.7,428.66h0 M160.39,430.37h0 M159.08,431.47h0 M157.77,431.22h0 M156.45,430.23h0 M155.14,428.73h0 M153.83,425.78h0 M152.52,422.43h0 M151.21,419.43h0 M149.9,416.56h0 M148.59,411.84h0 M147.27,412.78h0 M145.96,409.49h0 M144.65,403.94h0 M143.34,408.28h0 M142.03,405.5h0 M140.72,404.1h0 M139.4,404.19h0 M138.09,404.55h0 M136.78,406.65h0 M135.47,407.74h0 M134.16,410.53h0 M132.85,412.5h0 M131.53,419.19h0 M130.22,421.59h0 M128.91,424.43h0 M127.6,429.93h0 M126.29,434.29h0 M124.98,436.6h0 M123.66,442.67h0 M122.35,445.46h0 M121.04,449.64h0 M119.73,454.4h0 M118.42,458.17h0 M117.11,462.76h0 M115.8,468.01h0 M114.48,469.6h0 M113.17,472.07h0 M111.86,476.15h0 M110.55,478.16h0 M109.24,479.38h0 M107.93,483.5h0 M106.61,483.38h0 M105.3,483.41h0 M103.99,487.87h0 M102.68,488.17h0 M101.37,489.57h0 M100.06,488.3h0 M98.74,490.6h0 M97.43,490.48h0 M96.12,493.03h0 M94.81,492.62h0 M93.5,492.99h0 M92.19,495.56h0 M90.87,491.74h0 M89.56,492.67h0 M88.25,496.24h0 M86.94,493.26h0 M85.63,494.54h0 M84.32,493.95h0 M83.01,494.2h0 M81.69,496.71h0 M80.38,495.2h0 M79.07,493.15h0 M77.76,495.9h0 M76.45,496.58h0 M75.14,497.12h0 M73.82,497.04h0 M72.51,495.16h0 M71.2,493.54h0 M69.89,495.23h0 M68.58,495.55h0 M67.27,493.11h0 M65.95,496.68h0 M64.64,496.95h0 M63.33,495.49h0 M62.02,495.52h0 M60.71,497.56h0 M59.4,497.81h0 M58.08,496h0 M56.77,496.09h0 M55.46,498.11h0 M54.15,496.73h0 M52.84,497.19h0 M51.53,495.94h0 M50.22,496.7h0 M48.9,496.68h0 M47.59,497.03h0 M46.28,495.26h0 M44.97,494.84h0 M43.66,497.09h0" stroke="#000" stroke-width="3.7" stroke-linecap="round" fill="none"/>
<path d="M309.91,496.67 L309.04,496.67 L308.16,496.67 L307.29,496.67 L306.41,496.67 L305.54,496.67 L304.67,496.67 L303.79,496.67 L302.92,496.67 L302.04,496.67 L301.17,496.67 L300.29,496.67 L299.42,496.67 L298.54,496.67 L297.67,496.67 L296.8,496.67 L295.92,496.67 L295.05,496.67 L294.17,496.67 L293.3,496.67 L292.42,496.67 L291.55,496.67 L290.68,496.67 L289.8,496.67 L288.93,496.67 L288.05,496.67 L287.18,496.67 L286.3,496.67 L285.43,496.67 L284.55,496.67 L283.68,496.67 L282.81,496.67 L281.93,496.67 L281.06,496.67 L280.18,496.67 L279.31,496.67 L278.43,496.67 L277.56,496.67 L276.68,496.67 L275.81,496.67 L274.94,496.67 L274.06,496.66 L273.19,496.66 L272.31,496.66 L271.44,496.66 L270.56,496.66 L269.69,496.66 L268.82,496.66 L267.94,496.66 L267.07,496.66 L266.19,496.66 L265.32,496.65 L264.44,496.65 L263.57,496.65 L262.69,496.64 L261.82,496.64 L260.95,496.63 L260.07,496.63 L259.2,496.62 L258.32,496.6 L257.45,496.59 L256.57,496.57 L255.7,496.55 L254.82,496.53 L253.95,496.5 L253.08,496.47 L252.2,496.42 L251.33,496.38 L250.45,496.32 L249.58,496.25 L248.7,496.17 L247.83,496.07 L246.96,495.96 L246.08,495.84 L245.21,495.69 L244.33,495.51 L243.46,495.31 L242.58,495.08 L241.71,494.81 L240.83,494.51 L239.96,494.16 L239.09,493.76 L238.21,493.31 L237.34,492.8 L236.46,492.22 L235.59,491.56 L234.71,490.83 L233.84,490.01 L232.96,489.09 L232.09,488.07 L231.22,486.94 L230.34,485.68 L229.47,484.3 L228.59,482.78 L227.72,481.11 L226.84,479.29 L225.97,477.31 L225.1,475.16 L224.22,472.83 L223.35,470.31 L222.47,467.61 L221.6,464.72 L220.72,461.62 L219.85,458.33 L218.97,454.84 L218.1,451.16 L217.23,447.27 L216.35,443.2 L215.48,438.94 L214.6,434.5 L213.73,429.9 L212.85,425.15 L211.98,420.25 L211.1,415.24 L210.23,410.12 L209.36,404.93 L208.48,399.67 L207.61,394.39 L206.73,389.1 L205.86,383.83 L204.98,378.61 L204.11,373.47 L203.24,368.45 L202.36,363.57 L201.49,358.87 L200.61,354.37 L199.74,350.12 L198.86,346.13 L197.99,342.43 L197.11,339.06 L196.24,336.04 L195.37,333.39 L194.49,331.12 L193.62,329.27 L192.74,327.84 L191.87,326.84 L190.99,326.28 L190.12,326.17 L189.24,326.56 L188.37,327.48 L187.5,328.9 L186.62,330.82 L185.75,333.22 L184.87,336.08 L184,339.37 L183.12,343.07 L182.25,347.14 L181.38,351.55 L180.5,356.26 L179.63,361.24 L178.75,366.44 L177.88,371.82 L177,377.35 L176.13,382.98 L175.25,388.68 L174.38,394.4 L173.51,400.12 L172.63,405.8 L171.76,411.41 L170.88,416.92 L170.01,422.3 L169.13,427.53 L168.26,432.59 L167.38,437.46 L166.51,442.12 L165.64,446.58 L164.76,450.81 L163.89,454.81 L163.01,458.58 L162.14,462.12 L161.26,465.42 L160.39,468.5 L159.52,471.35 L158.64,473.98 L157.77,476.4 L156.89,478.62 L156.02,480.64 L155.14,482.48 L154.27,484.15 L153.39,485.66 L152.52,487.01 L151.65,488.22 L150.77,489.31 L149.9,490.27 L149.02,491.13 L148.15,491.88 L147.27,492.55 L146.4,493.13 L145.52,493.64 L144.65,494.09 L143.78,494.47 L142.9,494.8 L142.03,495.09 L141.15,495.34 L140.28,495.55 L139.4,495.73 L138.53,495.89 L137.66,496.02 L136.78,496.13 L135.91,496.22 L135.03,496.3 L134.16,496.36 L133.28,496.42 L132.41,496.46 L131.53,496.5 L130.66,496.53 L129.79,496.56 L128.91,496.58 L128.04,496.6 L127.16,496.61 L126.29,496.62 L125.41,496.63 L124.54,496.64 L123.66,496.64 L122.79,496.65 L121.92,496.65 L121.04,496.65 L120.17,496.66 L119.29,496.66 L118.42,496.66 L117.54,496.66 L116.67,496.66 L115.8,496.66 L114.92,496.66 L114.05,496.66 L113.17,496.66 L112.3,496.67 L111.42,496.67 L110.55,496.67 L109.67,496.67 L108.8,496.67 L107.93,496.67 L107.05,496.67 L106.18,496.67 L105.3,496.67 L104.43,496.67 L103.55,496.67 L102.68,496.67 L101.8,496.67 L100.93,496.67 L100.06,496.67 L99.18,496.67 L98.31,496.67 L97.43,496.67 L96.56,496.67 L95.68,496.67 L94.81,496.67 L93.94,496.67 L93.06,496.67 L92.19,496.67 L91.31,496.67 L90.44,496.67 L89.56,496.67 L88.69,496.67 L87.81,496.67 L86.94,496.67 L86.07,496.67 L85.19,496.67 L84.32,496.67 L83.44,496.67 L82.57,496.67 L81.69,496.67 L80.82,496.67 L79.94,496.67 L79.07,496.67 L78.2,496.67 L77.32,496.67 L76.45,496.67 L75.57,496.67 L74.7,496.67 L73.82,496.67 L72.95,496.67 L72.08,496.67 L71.2,496.67 L70.33,496.67 L69.45,496.67 L68.58,496.67 L67.7,496.67 L66.83,496.67 L65.95,496.67 L65.08,496.67 L64.21,496.67 L63.33,496.67 L62.46,496.67 L61.58,496.67 L60.71,496.67 L59.83,496.67 L58.96,496.67 L58.08,496.67 L57.21,496.67 L56.34,496.67 L55.46,496.67 L54.59,496.67 L53.71,496.67 L52.84,496.67 L51.96,496.67 L51.09,496.67 L50.22,496.67 L49.34,496.67 L48.47,496.67 L47.59,496.67 L46.72,496.67 L45.84,496.67 L44.97,496.67 L44.09,496.67 L43.22,496.67" stroke="#d42020" stroke-width="2.0" fill="none" stroke-linejoin="round" />
<path d="M309.91,496.67 L309.04,496.67 L308.16,496.67 L307.29,496.67 L306.41,496.67 L305.54,496.67 L304.67,496.67 L303.79,496.67 L302.92,496.67 L302.04,496.67 L301.17,496.67 L300.29,496.67 L299.42,496.67 L298.54,496.67 L297.67,496.67 L296.8,496.67 L295.92,496.67 L295.05,496.67 L294.17,496.67 L293.3,496.67 L292.42,496.67 L291.55,496.67 L290.68,496.67 L289.8,496.67 L288.93,496.67 L288.05,496.67 L287.18,496.67 L286.3,496.67 L285.43,496.67 L284.55,496.67 L283.68,496.67 L282.81,496.67 L281.93,496.67 L281.06,496.67 L280.18,496.67 L279.31,496.67 L278.43,496.67 L277.56,496.67 L276.68,496.67 L275.81,496.67 L274.94,496.67 L274.06,496.67 L273.19,496.67 L272.31,496.67 L271.44,496.67 L270.56,496.67 L269.69,496.67 L268.82,496.67 L267.94,496.67 L267.07,496.67 L266.19,496.67 L265.32,496.67 L264.44,496.67 L263.57,496.67 L262.69,496.67 L261.82,496.67 L260.95,496.67 L260.07,496.67 L259.2,496.67 L258.32,496.67 L257.45,496.67 L256.57,496.67 L255.7,496.67 L254.82,496.67 L253.95,496.67 L253.08,496.67 L252.2,496.67 L251.33,496.67 L250.45,496.67 L249.58,496.67 L248.7,496.67 L247.83,496.67 L246.96,496.67 L246.08,496.67 L245.21,496.67 L244.33,496.67 L243.46,496.67 L242.58,496.67 L241.71,496.67 L240.83,496.67 L239.96,496.67 L239.09,496.67 L238.21,496.67 L237.34,496.67 L236.46,496.67 L235.59,496.67 L234.71,496.67 L233.84,496.67 L232.96,496.67 L232.09,496.67 L231.22,496.67 L230.34,496.67 L229.47,496.67 L228.59,496.67 L227.72,496.67 L226.84,496.67 L225.97,496.67 L225.1,496.67 L224.22,496.67 L223.35,496.67 L222.47,496.67 L221.6,496.67 L220.72,496.67 L219.85,496.67 L218.97,496.67 L218.1,496.67 L217.23,496.67 L216.35,496.67 L215.48,496.66 L214.6,496.66 L213.73,496.66 L212.85,496.66 L211.98,496.66 L211.1,496.66 L210.23,496.66 L209.36,496.66 L208.48,496.66 L207.61,496.66 L206.73,496.65 L205.86,496.65 L204.98,496.65 L204.11,496.64 L203.24,496.64 L202.36,496.63 L201.49,496.62 L200.61,496.61 L199.74,496.6 L198.86,496.58 L197.99,496.56 L197.11,496.54 L196.24,496.51 L195.37,496.48 L194.49,496.44 L193.62,496.39 L192.74,496.34 L191.87,496.27 L190.99,496.2 L190.12,496.11 L189.24,496 L188.37,495.88 L187.5,495.74 L186.62,495.57 L185.75,495.38 L184.87,495.16 L184,494.91 L183.12,494.62 L182.25,494.3 L181.38,493.93 L180.5,493.51 L179.63,493.04 L178.75,492.5 L177.88,491.91 L177,491.25 L176.13,490.51 L175.25,489.69 L174.38,488.79 L173.51,487.8 L172.63,486.72 L171.76,485.54 L170.88,484.25 L170.01,482.85 L169.13,481.35 L168.26,479.73 L167.38,478 L166.51,476.15 L165.64,474.18 L164.76,472.1 L163.89,469.91 L163.01,467.61 L162.14,465.2 L161.26,462.7 L160.39,460.11 L159.52,457.44 L158.64,454.71 L157.77,451.91 L156.89,449.07 L156.02,446.21 L155.14,443.33 L154.27,440.46 L153.39,437.6 L152.52,434.79 L151.65,432.04 L150.77,429.37 L149.9,426.8 L149.02,424.35 L148.15,422.04 L147.27,419.88 L146.4,417.9 L145.52,416.11 L144.65,414.52 L143.78,413.16 L142.9,412.02 L142.03,411.13 L141.15,410.48 L140.28,410.1 L139.4,409.97 L138.53,410.1 L137.66,410.48 L136.78,411.13 L135.91,412.02 L135.03,413.16 L134.16,414.52 L133.28,416.11 L132.41,417.9 L131.53,419.88 L130.66,422.04 L129.79,424.35 L128.91,426.8 L128.04,429.37 L127.16,432.04 L126.29,434.79 L125.41,437.6 L124.54,440.46 L123.66,443.33 L122.79,446.21 L121.92,449.07 L121.04,451.91 L120.17,454.71 L119.29,457.44 L118.42,460.11 L117.54,462.7 L116.67,465.2 L115.8,467.61 L114.92,469.91 L114.05,472.1 L113.17,474.18 L112.3,476.15 L111.42,478 L110.55,479.73 L109.67,481.35 L108.8,482.85 L107.93,484.25 L107.05,485.54 L106.18,486.72 L105.3,487.8 L104.43,488.79 L103.55,489.69 L102.68,490.51 L101.8,491.25 L100.93,491.91 L100.06,492.5 L99.18,493.04 L98.31,493.51 L97.43,493.93 L96.56,494.3 L95.68,494.62 L94.81,494.91 L93.94,495.16 L93.06,495.38 L92.19,495.57 L91.31,495.74 L90.44,495.88 L89.56,496 L88.69,496.11 L87.81,496.2 L86.94,496.27 L86.07,496.34 L85.19,496.39 L84.32,496.44 L83.44,496.48 L82.57,496.51 L81.69,496.54 L80.82,496.56 L79.94,496.58 L79.07,496.6 L78.2,496.61 L77.32,496.62 L76.45,496.63 L75.57,496.64 L74.7,496.64 L73.82,496.65 L72.95,496.65 L72.08,496.65 L71.2,496.66 L70.33,496.66 L69.45,496.66 L68.58,496.66 L67.7,496.66 L66.83,496.66 L65.95,496.66 L65.08,496.66 L64.21,496.66 L63.33,496.66 L62.46,496.67 L61.58,496.67 L60.71,496.67 L59.83,496.67 L58.96,496.67 L58.08,496.67 L57.21,496.67 L56.34,496.67 L55.46,496.67 L54.59,496.67 L53.71,496.67 L52.84,496.67 L51.96,496.67 L51.09,496.67 L50.22,496.67 L49.34,496.67 L48.47,496.67 L47.59,496.67 L46.72,496.67 L45.84,496.67 L44.97,496.67 L44.09,496.67 L43.22,496.67" stroke="#2018c8" stroke-width="2.0" fill="none" stroke-linejoin="round" />
<path d="M399.5,494.19h0 M400.6,493.38h0 M401.7,493.43h0 M402.8,493.46h0 M403.9,493.53h0 M405,492.69h0 M406.1,492.65h0 M407.2,492.6h0 M408.3,491.88h0 M409.4,492.29h0 M410.5,491.94h0 M411.6,492.21h0 M412.7,491.6h0 M413.8,491.21h0 M414.9,491.84h0 M416,491.84h0 M417.1,491.47h0 M418.2,491.9h0 M419.3,491.41h0 M420.4,491.2h0 M421.5,491.49h0 M422.6,490.67h0 M423.7,490.87h0 M424.8,490.98h0 M425.9,491.14h0 M427,490.64h0 M428.1,490.64h0 M429.2,490.12h0 M430.3,490.25h0 M431.4,490.5h0 M432.5,489.43h0 M433.6,490.22h0 M434.7,488.87h0 M435.8,488.78h0 M436.9,488.48h0 M438,488.39h0 M439.1,487.18h0 M440.2,486.42h0 M441.3,486.88h0 M442.4,486.42h0 M443.5,485.79h0 M444.6,485.89h0 M445.7,484.39h0 M446.8,483.71h0 M447.9,483.21h0 M449,482.22h0 M450.1,481.84h0 M451.2,479.94h0 M452.3,479.3h0 M453.4,477.23h0 M454.5,477.67h0 M455.6,476.15h0 M456.7,475.43h0 M457.8,474.64h0 M458.9,472.6h0 M460,471.18h0 M461.1,469.71h0 M462.2,468.17h0 M463.3,466.77h0 M464.4,465.7h0 M465.5,463.94h0 M466.6,462.37h0 M467.7,460.68h0 M468.8,459.42h0 M469.9,457.61h0 M471,455.7h0 M472.1,454.28h0 M473.2,452.28h0 M474.3,450.2h0 M475.4,449.38h0 M476.5,447.29h0 M477.6,445.05h0 M478.7,444.02h0 M479.8,442.03h0 M480.9,439.63h0 M482,439.02h0 M483.1,436.87h0 M484.2,435.37h0 M485.3,433.45h0 M486.4,431.66h0 M487.5,429.5h0 M488.6,428.72h0 M489.7,426.72h0 M490.8,424.93h0 M491.9,423.46h0 M493,421.66h0 M494.1,420.13h0 M495.2,418.01h0 M496.3,416.34h0 M497.4,413.78h0 M498.5,412.52h0 M499.6,410.99h0 M500.7,409.27h0 M501.8,406.67h0 M502.9,404.69h0 M504,403.16h0 M505.1,400.3h0 M506.2,398.41h0 M507.3,396.4h0 M508.4,393.42h0 M509.5,391.34h0 M510.6,388.07h0 M511.7,385.71h0 M512.8,382.84h0 M513.9,380.03h0 M515,377.41h0 M516.1,374.76h0 M517.2,370.49h0 M518.3,367.2h0 M519.4,364.13h0 M520.5,360.02h0 M521.6,356.87h0 M522.7,353.11h0 M523.8,349.01h0 M524.9,345.53h0 M526,341.16h0 M527.1,338.51h0 M528.2,334.51h0 M529.3,331.93h0 M530.4,329.49h0 M531.5,327.49h0 M532.6,326.36h0 M533.7,325.02h0 M534.8,324.3h0 M535.9,324.63h0 M537,325.57h0 M538.1,326.23h0 M539.2,328.21h0 M540.3,331.07h0 M541.4,334.08h0 M542.5,337.77h0 M543.6,344.31h0 M544.7,350.31h0 M545.8,355.63h0 M546.9,363.61h0 M548,371.4h0 M549.1,379.43h0 M550.2,387.25h0 M551.3,394.83h0 M552.4,402.38h0 M553.5,410.45h0 M554.6,418.21h0 M555.7,424.63h0 M556.8,431.48h0 M557.9,438.27h0 M559,443.59h0 M560.1,449.72h0 M561.2,454.78h0 M562.3,459.8h0 M563.4,463.73h0 M564.5,467.62h0 M565.6,471.38h0 M566.7,474.76h0 M567.8,477.48h0 M568.9,480.36h0 M570,482.97h0 M571.1,485.19h0 M572.2,487.2h0 M573.3,487.91h0 M574.4,489.41h0 M575.5,489.86h0 M576.6,492.38h0 M577.7,492.28h0 M578.8,493.19h0 M579.9,493.92h0 M581,493.68h0 M582.1,494.64h0 M583.2,494.7h0 M584.3,494.25h0 M585.4,495.12h0 M586.5,495.53h0 M587.6,494.54h0 M588.7,495.57h0 M589.8,495.45h0 M590.9,495.64h0 M592,495.73h0 M593.1,496.14h0 M594.2,495.71h0 M595.3,496.21h0 M596.4,495.88h0 M597.5,496.4h0 M598.6,495.99h0 M599.7,496.36h0 M600.8,497.14h0 M601.9,496.82h0 M603,496.75h0 M604.1,496.54h0 M605.2,496.8h0 M606.3,497.29h0 M607.4,497.69h0 M608.5,497.66h0 M609.6,497.84h0 M610.7,497.79h0 M611.8,498.42h0 M612.9,497.96h0 M614,498.05h0 M615.1,498.7h0 M616.2,498.55h0 M617.3,498.58h0 M618.4,498.62h0 M619.5,498.87h0 M620.6,499.32h0 M621.7,499.36h0 M622.8,498.95h0 M623.9,499.66h0 M625,499.7h0 M626.1,499.41h0 M627.2,500.16h0 M628.3,499.91h0 M629.4,500.01h0 M630.5,500.52h0 M631.6,500.81h0 M632.7,500.21h0 M633.8,500.71h0 M634.9,500.34h0 M636,501.55h0 M637.1,500.65h0 M638.2,501.32h0 M639.3,500.75h0 M640.4,501.32h0 M641.5,501.88h0 M642.6,500.26h0 M643.7,501.05h0 M644.8,501.41h0 M645.9,501.24h0 M647,501.06h0 M648.1,502.06h0 M649.2,501.34h0 M650.3,500.74h0 M651.4,501.6h0 M652.5,500.68h0 M653.6,501.66h0 M654.7,501.01h0" stroke="#000" stroke-width="3.7" stroke-linecap="round" fill="none"/>
<path d="M399,493.68 L399.5,493.68 L400,493.68 L400.5,493.68 L401,493.67 L401.5,493.67 L402,493.67 L402.5,493.67 L403,493.67 L403.5,493.66 L404,493.66 L404.5,493.66 L405,493.65 L405.5,493.65 L406,493.65 L406.5,493.64 L407,493.64 L407.5,493.63 L408,493.63 L408.5,493.62 L409,493.62 L409.5,493.61 L410,493.6 L410.5,493.6 L411,493.59 L411.5,493.58 L412,493.57 L412.5,493.57 L413,493.56 L413.5,493.55 L414,493.54 L414.5,493.53 L415,493.51 L415.5,493.5 L416,493.49 L416.5,493.47 L417,493.46 L417.5,493.44 L418,493.43 L418.5,493.41 L419,493.39 L419.5,493.37 L420,493.35 L420.5,493.33 L421,493.3 L421.5,493.28 L422,493.25 L422.5,493.22 L423,493.19 L423.5,493.16 L424,493.13 L424.5,493.09 L425,493.05 L425.5,493.01 L426,492.97 L426.5,492.92 L427,492.87 L427.5,492.82 L428,492.76 L428.5,492.7 L429,492.64 L429.5,492.57 L430,492.5 L430.5,492.42 L431,492.34 L431.5,492.26 L432,492.17 L432.5,492.08 L433,491.98 L433.5,491.87 L434,491.76 L434.5,491.64 L435,491.52 L435.5,491.39 L436,491.25 L436.5,491.11 L437,490.95 L437.5,490.79 L438,490.63 L438.5,490.45 L439,490.27 L439.5,490.07 L440,489.87 L440.5,489.67 L441,489.45 L441.5,489.23 L442,489 L442.5,488.75 L443,488.5 L443.5,488.24 L444,487.97 L444.5,487.68 L445,487.39 L445.5,487.09 L446,486.78 L446.5,486.45 L447,486.12 L447.5,485.78 L448,485.42 L448.5,485.06 L449,484.69 L449.5,484.31 L450,483.91 L450.5,483.52 L451,483.11 L451.5,482.69 L452,482.27 L452.5,481.84 L453,481.41 L453.5,480.96 L454,480.52 L454.5,480.07 L455,479.61 L455.5,479.16 L456,478.7 L456.5,478.24 L457,477.78 L457.5,477.32 L458,476.86 L458.5,476.41 L459,475.96 L459.5,475.52 L460,475.09 L460.5,474.66 L461,474.25 L461.5,473.84 L462,473.45 L462.5,473.08 L463,472.72 L463.5,472.38 L464,472.06 L464.5,471.76 L465,471.48 L465.5,471.23 L466,471 L466.5,470.8 L467,470.63 L467.5,470.49 L468,470.38 L468.5,470.3 L469,470.25 L469.5,470.23 L470,470.25 L470.5,470.3 L471,470.39 L471.5,470.52 L472,470.69 L472.5,470.88 L473,471.12 L473.5,471.38 L474,471.68 L474.5,472 L475,472.35 L475.5,472.73 L476,473.12 L476.5,473.54 L477,473.97 L477.5,474.42 L478,474.89 L478.5,475.36 L479,475.85 L479.5,476.34 L480,476.84 L480.5,477.35 L481,477.87 L481.5,478.39 L482,478.91 L482.5,479.43 L483,479.95 L483.5,480.46 L484,480.97 L484.5,481.47 L485,481.97 L485.5,482.46 L486,482.94 L486.5,483.42 L487,483.88 L487.5,484.34 L488,484.79 L488.5,485.23 L489,485.66 L489.5,486.07 L490,486.48 L490.5,486.88 L491,487.27 L491.5,487.64 L492,488.01 L492.5,488.36 L493,488.7 L493.5,489.04 L494,489.36 L494.5,489.67 L495,489.97 L495.5,490.26 L496,490.54 L496.5,490.81 L497,491.08 L497.5,491.33 L498,491.57 L498.5,491.8 L499,492.03 L499.5,492.25 L500,492.45 L500.5,492.65 L501,492.85 L501.5,493.03 L502,493.21 L502.5,493.38 L503,493.54 L503.5,493.7 L504,493.85 L504.5,494 L505,494.14 L505.5,494.28 L506,494.41 L506.5,494.53 L507,494.65 L507.5,494.77 L508,494.88 L508.5,494.99 L509,495.09 L509.5,495.19 L510,495.29 L510.5,495.38 L511,495.47 L511.5,495.56 L512,495.64 L512.5,495.73 L513,495.8 L513.5,495.88 L514,495.96 L514.5,496.03 L515,496.1 L515.5,496.17 L516,496.24 L516.5,496.31 L517,496.37 L517.5,496.44 L518,496.5 L518.5,496.56 L519,496.62 L519.5,496.68 L520,496.73 L520.5,496.79 L521,496.84 L521.5,496.9 L522,496.95 L522.5,497.01 L523,497.06 L523.5,497.11 L524,497.16 L524.5,497.21 L525,497.26 L525.5,497.31 L526,497.35 L526.5,497.4 L527,497.45 L527.5,497.51 L528,497.58 L528.5,497.64 L529,497.71 L529.5,497.77 L530,497.83 L530.5,497.9 L531,497.96 L531.5,498.02 L532,498.08 L532.5,498.14 L533,498.2 L533.5,498.26 L534,498.33 L534.5,498.39 L535,498.44 L535.5,498.5 L536,498.56 L536.5,498.62 L537,498.68 L537.5,498.74 L538,498.8 L538.5,498.85 L539,498.91 L539.5,498.97 L540,499.03 L540.5,499.08 L541,499.14 L541.5,499.2 L542,499.25 L542.5,499.31 L543,499.37 L543.5,499.42 L544,499.48 L544.5,499.53 L545,499.59 L545.5,499.64 L546,499.7 L546.5,499.75 L547,499.81 L547.5,499.86 L548,499.92 L548.5,499.97 L549,500.03 L549.5,500.08 L550,500.13 L550.5,500.19 L551,500.24 L551.5,500.29 L552,500.35 L552.5,500.4 L553,500.45 L553.5,500.51 L554,500.56 L554.5,500.61 L555,500.67 L555.5,500.72 L556,500.77 L556.5,500.78 L557,500.8 L557.5,500.81 L558,500.83 L558.5,500.84 L559,500.85 L559.5,500.87 L560,500.88 L560.5,500.89 L561,500.9 L561.5,500.92 L562,500.93 L562.5,500.94 L563,500.96 L563.5,500.97 L564,500.98 L564.5,500.99 L565,501.01 L565.5,501.02 L566,501.03 L566.5,501.04 L567,501.06 L567.5,501.07 L568,501.08 L568.5,501.09 L569,501.1 L569.5,501.12 L570,501.13 L570.5,501.14 L571,501.15 L571.5,501.16 L572,501.17 L572.5,501.19 L573,501.2 L573.5,501.21 L574,501.22 L574.5,501.23 L575,501.24 L575.5,501.25 L576,501.26 L576.5,501.28 L577,501.29 L577.5,501.3 L578,501.31 L578.5,501.32 L579,501.33 L579.5,501.34 L580,501.35 L580.5,501.36 L581,501.37 L581.5,501.39 L582,501.4 L582.5,501.41 L583,501.42 L583.5,501.43 L584,501.44 L584.5,501.45 L585,501.46 L585.5,501.47 L586,501.48 L586.5,501.49 L587,501.5 L587.5,501.51 L588,501.52 L588.5,501.53 L589,501.54 L589.5,501.55 L590,501.56 L590.5,501.57 L591,501.58 L591.5,501.59 L592,501.6 L592.5,501.61 L593,501.62 L593.5,501.63 L594,501.64 L594.5,501.65 L595,501.66 L595.5,501.67 L596,501.68 L596.5,501.69 L597,501.7 L597.5,501.71 L598,501.72 L598.5,501.73 L599,501.74 L599.5,501.75 L600,501.76 L600.5,501.77 L601,501.77 L601.5,501.77 L602,501.78 L602.5,501.78 L603,501.78 L603.5,501.79 L604,501.79 L604.5,501.79 L605,501.8 L605.5,501.8 L606,501.8 L606.5,501.81 L607,501.81 L607.5,501.81 L608,501.82 L608.5,501.82 L609,501.82 L609.5,501.83 L610,501.83 L610.5,501.83 L611,501.84 L611.5,501.84 L612,501.84 L612.5,501.85 L613,501.85 L613.5,501.85 L614,501.86 L614.5,501.86 L615,501.86 L615.5,501.87 L616,501.87 L616.5,501.87 L617,501.88 L617.5,501.88 L618,501.88 L618.5,501.88 L619,501.89 L619.5,501.89 L620,501.89 L620.5,501.9 L621,501.9 L621.5,501.9 L622,501.91 L622.5,501.91 L623,501.91 L623.5,501.91 L624,501.92 L624.5,501.92 L625,501.92 L625.5,501.93 L626,501.93 L626.5,501.93 L627,501.93 L627.5,501.94 L628,501.94 L628.5,501.94 L629,501.95 L629.5,501.95 L630,501.95 L630.5,501.95 L631,501.96 L631.5,501.96 L632,501.96 L632.5,501.97 L633,501.97 L633.5,501.97 L634,501.97 L634.5,501.98 L635,501.98 L635.5,501.98 L636,501.98 L636.5,501.99 L637,501.99 L637.5,501.99 L638,502 L638.5,502 L639,502 L639.5,502 L640,502.01 L640.5,502.01 L641,502.01 L641.5,502.01 L642,502.02 L642.5,502.02 L643,502.02 L643.5,502.02 L644,502.03 L644.5,502.03 L645,502.03 L645.5,502.03 L646,502.04 L646.5,502.04 L647,502.04 L647.5,502.04 L648,502.05 L648.5,502.05 L649,502.05 L649.5,502.05 L650,502.06 L650.5,502.06 L651,502.06 L651.5,502.06 L652,502.07 L652.5,502.07 L653,502.07 L653.5,502.07 L654,502.08 L654.5,502.08 L655,502.08" stroke="#28963c" stroke-width="1.9" fill="none" stroke-linejoin="round" />
<path d="M399,494.05 L399.5,494.06 L400,494.06 L400.5,494.07 L401,494.07 L401.5,494.08 L402,494.08 L402.5,494.09 L403,494.09 L403.5,494.1 L404,494.1 L404.5,494.11 L405,494.11 L405.5,494.12 L406,494.12 L406.5,494.12 L407,494.13 L407.5,494.13 L408,494.14 L408.5,494.14 L409,494.15 L409.5,494.15 L410,494.15 L410.5,494.16 L411,494.16 L411.5,494.17 L412,494.17 L412.5,494.17 L413,494.18 L413.5,494.18 L414,494.18 L414.5,494.19 L415,494.19 L415.5,494.19 L416,494.2 L416.5,494.2 L417,494.2 L417.5,494.21 L418,494.21 L418.5,494.21 L419,494.22 L419.5,494.22 L420,494.22 L420.5,494.22 L421,494.23 L421.5,494.23 L422,494.23 L422.5,494.23 L423,494.24 L423.5,494.24 L424,494.24 L424.5,494.24 L425,494.24 L425.5,494.24 L426,494.25 L426.5,494.25 L427,494.25 L427.5,494.25 L428,494.25 L428.5,494.25 L429,494.25 L429.5,494.25 L430,494.25 L430.5,494.25 L431,494.26 L431.5,494.26 L432,494.26 L432.5,494.26 L433,494.25 L433.5,494.25 L434,494.25 L434.5,494.25 L435,494.25 L435.5,494.25 L436,494.25 L436.5,494.25 L437,494.25 L437.5,494.24 L438,494.24 L438.5,494.24 L439,494.24 L439.5,494.23 L440,494.23 L440.5,494.23 L441,494.24 L441.5,494.24 L442,494.24 L442.5,494.24 L443,494.24 L443.5,494.24 L444,494.24 L444.5,494.24 L445,494.24 L445.5,494.24 L446,494.24 L446.5,494.24 L447,494.24 L447.5,494.23 L448,494.23 L448.5,494.22 L449,494.22 L449.5,494.21 L450,494.21 L450.5,494.2 L451,494.19 L451.5,494.18 L452,494.16 L452.5,494.15 L453,494.13 L453.5,494.12 L454,494.1 L454.5,494.07 L455,494.05 L455.5,494.02 L456,493.99 L456.5,493.96 L457,493.92 L457.5,493.88 L458,493.83 L458.5,493.78 L459,493.73 L459.5,493.66 L460,493.6 L460.5,493.52 L461,493.44 L461.5,493.35 L462,493.25 L462.5,493.14 L463,493.02 L463.5,492.89 L464,492.75 L464.5,492.59 L465,492.42 L465.5,492.24 L466,492.04 L466.5,491.82 L467,491.59 L467.5,491.33 L468,491.06 L468.5,490.76 L469,490.44 L469.5,490.1 L470,489.73 L470.5,489.33 L471,488.91 L471.5,488.45 L472,487.97 L472.5,487.45 L473,486.9 L473.5,486.31 L474,485.69 L474.5,485.03 L475,484.34 L475.5,483.6 L476,482.83 L476.5,482.02 L477,481.16 L477.5,480.27 L478,479.33 L478.5,478.35 L479,477.33 L479.5,476.27 L480,475.17 L480.5,474.04 L481,472.88 L481.5,471.67 L482,470.43 L482.5,469.15 L483,467.84 L483.5,466.5 L484,465.13 L484.5,463.74 L485,462.32 L485.5,460.88 L486,459.42 L486.5,457.95 L487,456.47 L487.5,454.99 L488,453.5 L488.5,452.02 L489,450.55 L489.5,449.09 L490,447.65 L490.5,446.23 L491,444.84 L491.5,443.49 L492,442.17 L492.5,440.9 L493,439.69 L493.5,438.53 L494,437.43 L494.5,436.41 L495,435.45 L495.5,434.58 L496,433.79 L496.5,433.09 L497,432.49 L497.5,431.98 L498,431.57 L498.5,431.26 L499,431.06 L499.5,430.97 L500,430.98 L500.5,431.07 L501,431.23 L501.5,431.46 L502,431.77 L502.5,432.14 L503,432.58 L503.5,433.08 L504,433.65 L504.5,434.28 L505,434.97 L505.5,435.71 L506,436.51 L506.5,437.36 L507,438.26 L507.5,439.2 L508,440.18 L508.5,441.2 L509,442.26 L509.5,443.35 L510,444.47 L510.5,445.62 L511,446.78 L511.5,447.97 L512,449.18 L512.5,450.4 L513,451.63 L513.5,452.87 L514,454.11 L514.5,455.36 L515,456.61 L515.5,457.86 L516,459.1 L516.5,460.34 L517,461.57 L517.5,462.79 L518,464 L518.5,465.2 L519,466.38 L519.5,467.54 L520,468.69 L520.5,469.81 L521,470.92 L521.5,472 L522,473.06 L522.5,474.1 L523,475.11 L523.5,476.1 L524,477.07 L524.5,478 L525,478.91 L525.5,479.8 L526,480.65 L526.5,481.49 L527,482.29 L527.5,483.08 L528,483.85 L528.5,484.6 L529,485.31 L529.5,486 L530,486.66 L530.5,487.3 L531,487.92 L531.5,488.51 L532,489.07 L532.5,489.61 L533,490.13 L533.5,490.63 L534,491.1 L534.5,491.56 L535,491.99 L535.5,492.41 L536,492.8 L536.5,493.18 L537,493.54 L537.5,493.88 L538,494.21 L538.5,494.52 L539,494.82 L539.5,495.1 L540,495.37 L540.5,495.63 L541,495.88 L541.5,496.11 L542,496.33 L542.5,496.54 L543,496.74 L543.5,496.94 L544,497.12 L544.5,497.3 L545,497.46 L545.5,497.62 L546,497.78 L546.5,497.92 L547,498.06 L547.5,498.2 L548,498.33 L548.5,498.45 L549,498.57 L549.5,498.69 L550,498.8 L550.5,498.91 L551,499.01 L551.5,499.11 L552,499.21 L552.5,499.3 L553,499.39 L553.5,499.48 L554,499.57 L554.5,499.65 L555,499.74 L555.5,499.82 L556,499.9 L556.5,499.94 L557,499.97 L557.5,500.01 L558,500.04 L558.5,500.08 L559,500.11 L559.5,500.14 L560,500.17 L560.5,500.2 L561,500.23 L561.5,500.26 L562,500.29 L562.5,500.31 L563,500.34 L563.5,500.36 L564,500.39 L564.5,500.41 L565,500.44 L565.5,500.46 L566,500.48 L566.5,500.5 L567,500.53 L567.5,500.55 L568,500.57 L568.5,500.59 L569,500.61 L569.5,500.63 L570,500.65 L570.5,500.67 L571,500.69 L571.5,500.71 L572,500.73 L572.5,500.75 L573,500.77 L573.5,500.79 L574,500.8 L574.5,500.82 L575,500.84 L575.5,500.86 L576,500.87 L576.5,500.89 L577,500.91 L577.5,500.92 L578,500.94 L578.5,500.96 L579,500.97 L579.5,500.99 L580,501.01 L580.5,501.02 L581,501.04 L581.5,501.05 L582,501.07 L582.5,501.08 L583,501.1 L583.5,501.11 L584,501.13 L584.5,501.14 L585,501.16 L585.5,501.17 L586,501.19 L586.5,501.2 L587,501.22 L587.5,501.23 L588,501.25 L588.5,501.26 L589,501.27 L589.5,501.29 L590,501.3 L590.5,501.31 L591,501.33 L591.5,501.34 L592,501.36 L592.5,501.37 L593,501.38 L593.5,501.39 L594,501.41 L594.5,501.42 L595,501.43 L595.5,501.45 L596,501.46 L596.5,501.47 L597,501.48 L597.5,501.5 L598,501.51 L598.5,501.52 L599,501.53 L599.5,501.55 L600,501.56 L600.5,501.57 L601,501.57 L601.5,501.58 L602,501.58 L602.5,501.59 L603,501.59 L603.5,501.6 L604,501.61 L604.5,501.61 L605,501.62 L605.5,501.62 L606,501.63 L606.5,501.63 L607,501.64 L607.5,501.64 L608,501.65 L608.5,501.65 L609,501.66 L609.5,501.66 L610,501.67 L610.5,501.67 L611,501.68 L611.5,501.68 L612,501.69 L612.5,501.69 L613,501.7 L613.5,501.7 L614,501.71 L614.5,501.71 L615,501.72 L615.5,501.72 L616,501.73 L616.5,501.73 L617,501.74 L617.5,501.74 L618,501.75 L618.5,501.75 L619,501.75 L619.5,501.76 L620,501.76 L620.5,501.77 L621,501.77 L621.5,501.78 L622,501.78 L622.5,501.78 L623,501.79 L623.5,501.79 L624,501.8 L624.5,501.8 L625,501.81 L625.5,501.81 L626,501.81 L626.5,501.82 L627,501.82 L627.5,501.83 L628,501.83 L628.5,501.83 L629,501.84 L629.5,501.84 L630,501.84 L630.5,501.85 L631,501.85 L631.5,501.86 L632,501.86 L632.5,501.86 L633,501.87 L633.5,501.87 L634,501.87 L634.5,501.88 L635,501.88 L635.5,501.89 L636,501.89 L636.5,501.89 L637,501.9 L637.5,501.9 L638,501.9 L638.5,501.91 L639,501.91 L639.5,501.91 L640,501.92 L640.5,501.92 L641,501.92 L641.5,501.93 L642,501.93 L642.5,501.93 L643,501.94 L643.5,501.94 L644,501.94 L644.5,501.95 L645,501.95 L645.5,501.95 L646,501.96 L646.5,501.96 L647,501.96 L647.5,501.97 L648,501.97 L648.5,501.97 L649,501.98 L649.5,501.98 L650,501.98 L650.5,501.99 L651,501.99 L651.5,501.99 L652,501.99 L652.5,502 L653,502 L653.5,502 L654,502.01 L654.5,502.01 L655,502.01" stroke="#e68c28" stroke-width="1.9" fill="none" stroke-linejoin="round" />
<path d="M399,494.06 L399.5,494.07 L400,494.07 L400.5,494.08 L401,494.08 L401.5,494.09 L402,494.09 L402.5,494.1 L403,494.11 L403.5,494.11 L404,494.12 L404.5,494.12 L405,494.13 L405.5,494.13 L406,494.14 L406.5,494.14 L407,494.15 L407.5,494.15 L408,494.16 L408.5,494.16 L409,494.17 L409.5,494.17 L410,494.18 L410.5,494.18 L411,494.19 L411.5,494.2 L412,494.2 L412.5,494.21 L413,494.21 L413.5,494.22 L414,494.22 L414.5,494.22 L415,494.23 L415.5,494.23 L416,494.24 L416.5,494.24 L417,494.25 L417.5,494.25 L418,494.26 L418.5,494.26 L419,494.27 L419.5,494.27 L420,494.28 L420.5,494.28 L421,494.29 L421.5,494.29 L422,494.29 L422.5,494.3 L423,494.3 L423.5,494.31 L424,494.31 L424.5,494.32 L425,494.32 L425.5,494.32 L426,494.33 L426.5,494.33 L427,494.34 L427.5,494.34 L428,494.34 L428.5,494.35 L429,494.35 L429.5,494.36 L430,494.36 L430.5,494.36 L431,494.37 L431.5,494.37 L432,494.37 L432.5,494.38 L433,494.38 L433.5,494.38 L434,494.39 L434.5,494.39 L435,494.39 L435.5,494.4 L436,494.4 L436.5,494.4 L437,494.41 L437.5,494.41 L438,494.41 L438.5,494.41 L439,494.42 L439.5,494.42 L440,494.42 L440.5,494.43 L441,494.44 L441.5,494.45 L442,494.46 L442.5,494.46 L443,494.47 L443.5,494.48 L444,494.49 L444.5,494.5 L445,494.51 L445.5,494.51 L446,494.52 L446.5,494.53 L447,494.54 L447.5,494.55 L448,494.55 L448.5,494.56 L449,494.57 L449.5,494.58 L450,494.58 L450.5,494.59 L451,494.6 L451.5,494.6 L452,494.61 L452.5,494.62 L453,494.62 L453.5,494.63 L454,494.64 L454.5,494.64 L455,494.65 L455.5,494.65 L456,494.66 L456.5,494.66 L457,494.67 L457.5,494.67 L458,494.68 L458.5,494.68 L459,494.69 L459.5,494.69 L460,494.7 L460.5,494.7 L461,494.71 L461.5,494.71 L462,494.71 L462.5,494.72 L463,494.72 L463.5,494.72 L464,494.73 L464.5,494.73 L465,494.73 L465.5,494.73 L466,494.73 L466.5,494.73 L467,494.73 L467.5,494.73 L468,494.74 L468.5,494.73 L469,494.73 L469.5,494.73 L470,494.73 L470.5,494.73 L471,494.73 L471.5,494.72 L472,494.72 L472.5,494.71 L473,494.71 L473.5,494.7 L474,494.69 L474.5,494.68 L475,494.68 L475.5,494.66 L476,494.65 L476.5,494.64 L477,494.62 L477.5,494.61 L478,494.59 L478.5,494.57 L479,494.54 L479.5,494.52 L480,494.49 L480.5,494.47 L481,494.45 L481.5,494.43 L482,494.4 L482.5,494.37 L483,494.33 L483.5,494.29 L484,494.24 L484.5,494.19 L485,494.13 L485.5,494.06 L486,493.98 L486.5,493.9 L487,493.81 L487.5,493.7 L488,493.59 L488.5,493.47 L489,493.33 L489.5,493.18 L490,493.01 L490.5,492.83 L491,492.63 L491.5,492.42 L492,492.18 L492.5,491.93 L493,491.65 L493.5,491.35 L494,491.02 L494.5,490.67 L495,490.29 L495.5,489.87 L496,489.43 L496.5,488.95 L497,488.44 L497.5,487.89 L498,487.3 L498.5,486.66 L499,485.99 L499.5,485.26 L500,484.49 L500.5,483.67 L501,482.79 L501.5,481.86 L502,480.88 L502.5,479.83 L503,478.72 L503.5,477.55 L504,476.32 L504.5,475.01 L505,473.64 L505.5,472.2 L506,470.68 L506.5,469.09 L507,467.43 L507.5,465.69 L508,463.87 L508.5,461.97 L509,459.99 L509.5,457.93 L510,455.8 L510.5,453.58 L511,451.29 L511.5,448.91 L512,446.46 L512.5,443.94 L513,441.33 L513.5,438.66 L514,435.91 L514.5,433.1 L515,430.22 L515.5,427.28 L516,424.28 L516.5,421.22 L517,418.12 L517.5,414.97 L518,411.78 L518.5,408.55 L519,405.3 L519.5,402.02 L520,398.73 L520.5,395.42 L521,392.12 L521.5,388.81 L522,385.52 L522.5,382.25 L523,379.01 L523.5,375.8 L524,372.63 L524.5,369.52 L525,366.47 L525.5,363.48 L526,360.58 L526.5,357.76 L527,355.04 L527.5,352.44 L528,349.95 L528.5,347.58 L529,345.34 L529.5,343.24 L530,341.28 L530.5,339.47 L531,337.82 L531.5,336.33 L532,335.01 L532.5,333.87 L533,332.91 L533.5,332.13 L534,331.53 L534.5,331.13 L535,330.91 L535.5,330.89 L536,331.04 L536.5,331.34 L537,331.79 L537.5,332.39 L538,333.15 L538.5,334.05 L539,335.09 L539.5,336.28 L540,337.61 L540.5,339.08 L541,340.68 L541.5,342.41 L542,344.26 L542.5,346.23 L543,348.32 L543.5,350.51 L544,352.81 L544.5,355.21 L545,357.7 L545.5,360.28 L546,362.93 L546.5,365.67 L547,368.46 L547.5,371.33 L548,374.24 L548.5,377.21 L549,380.21 L549.5,383.26 L550,386.33 L550.5,389.43 L551,392.54 L551.5,395.67 L552,398.8 L552.5,401.93 L553,405.05 L553.5,408.17 L554,411.27 L554.5,414.34 L555,417.4 L555.5,420.42 L556,423.4 L556.5,426.31 L557,429.18 L557.5,432 L558,434.77 L558.5,437.49 L559,440.16 L559.5,442.77 L560,445.32 L560.5,447.8 L561,450.23 L561.5,452.59 L562,454.88 L562.5,457.11 L563,459.27 L563.5,461.36 L564,463.39 L564.5,465.34 L565,467.23 L565.5,469.05 L566,470.8 L566.5,472.48 L567,474.1 L567.5,475.65 L568,477.13 L568.5,478.56 L569,479.92 L569.5,481.21 L570,482.45 L570.5,483.63 L571,484.76 L571.5,485.83 L572,486.84 L572.5,487.81 L573,488.72 L573.5,489.58 L574,490.4 L574.5,491.17 L575,491.9 L575.5,492.59 L576,493.24 L576.5,493.84 L577,494.42 L577.5,494.96 L578,495.46 L578.5,495.93 L579,496.38 L579.5,496.79 L580,497.18 L580.5,497.54 L581,497.87 L581.5,498.19 L582,498.48 L582.5,498.75 L583,499.01 L583.5,499.24 L584,499.46 L584.5,499.66 L585,499.85 L585.5,500.02 L586,500.19 L586.5,500.33 L587,500.47 L587.5,500.6 L588,500.72 L588.5,500.82 L589,500.92 L589.5,501.02 L590,501.1 L590.5,501.18 L591,501.25 L591.5,501.32 L592,501.38 L592.5,501.44 L593,501.49 L593.5,501.54 L594,501.58 L594.5,501.62 L595,501.66 L595.5,501.69 L596,501.73 L596.5,501.76 L597,501.78 L597.5,501.81 L598,501.83 L598.5,501.86 L599,501.88 L599.5,501.9 L600,501.92 L600.5,501.93 L601,501.94 L601.5,501.95 L602,501.96 L602.5,501.96 L603,501.97 L603.5,501.98 L604,501.98 L604.5,501.99 L605,501.99 L605.5,502 L606,502 L606.5,502.01 L607,502.01 L607.5,502.01 L608,502.02 L608.5,502.02 L609,502.02 L609.5,502.03 L610,502.03 L610.5,502.03 L611,502.03 L611.5,502.04 L612,502.04 L612.5,502.04 L613,502.04 L613.5,502.05 L614,502.05 L614.5,502.05 L615,502.05 L615.5,502.05 L616,502.06 L616.5,502.06 L617,502.06 L617.5,502.06 L618,502.06 L618.5,502.07 L619,502.07 L619.5,502.07 L620,502.07 L620.5,502.07 L621,502.08 L621.5,502.08 L622,502.08 L622.5,502.08 L623,502.08 L623.5,502.09 L624,502.09 L624.5,502.09 L625,502.09 L625.5,502.09 L626,502.09 L626.5,502.1 L627,502.1 L627.5,502.1 L628,502.1 L628.5,502.1 L629,502.11 L629.5,502.11 L630,502.11 L630.5,502.11 L631,502.11 L631.5,502.11 L632,502.12 L632.5,502.12 L633,502.12 L633.5,502.12 L634,502.12 L634.5,502.13 L635,502.13 L635.5,502.13 L636,502.13 L636.5,502.13 L637,502.13 L637.5,502.14 L638,502.14 L638.5,502.14 L639,502.14 L639.5,502.14 L640,502.15 L640.5,502.15 L641,502.15 L641.5,502.15 L642,502.15 L642.5,502.15 L643,502.16 L643.5,502.16 L644,502.16 L644.5,502.16 L645,502.16 L645.5,502.17 L646,502.17 L646.5,502.17 L647,502.17 L647.5,502.17 L648,502.17 L648.5,502.18 L649,502.18 L649.5,502.18 L650,502.18 L650.5,502.18 L651,502.19 L651.5,502.19 L652,502.19 L652.5,502.19 L653,502.19 L653.5,502.19 L654,502.2 L654.5,502.2 L655,502.2" stroke="#d42020" stroke-width="1.9" fill="none" stroke-linejoin="round" />
<path d="M399,494.3 L400.63,494.28 L402.8,494.24 L405.38,494.2 L408.25,494.16 L411.28,494.11 L414.33,494.07 L417.28,494.03 L420,494 L422.53,493.97 L425,493.95 L427.45,493.92 L429.88,493.9 L432.33,493.89 L434.82,493.88 L437.37,493.89 L440,493.9 L442.72,493.93 L445.52,493.97 L448.37,494.02 L451.27,494.08 L454.18,494.15 L457.11,494.22 L460.02,494.29 L462.9,494.36 L465.76,494.43 L468.62,494.51 L471.49,494.58 L474.35,494.66 L477.21,494.75 L480.07,494.84 L482.94,494.94 L485.8,495.05 L488.66,495.16 L491.52,495.29 L494.39,495.41 L497.25,495.55 L500.11,495.69 L502.97,495.85 L505.83,496.01 L508.7,496.19 L511.54,496.37 L514.34,496.55 L517.13,496.74 L519.93,496.94 L522.76,497.16 L525.63,497.41 L528.57,497.69 L531.6,498.02 L534.78,498.45 L538.12,499 L541.56,499.6 L545.03,500.23 L548.47,500.82 L551.8,501.33 L554.97,501.71 L557.9,501.92 L560.6,501.93 L563.15,501.81 L565.55,501.56 L567.84,501.23 L570.03,500.84 L572.15,500.42 L574.2,500.01 L576.22,499.63 L578.15,499.22 L579.98,498.74 L581.71,498.22 L583.37,497.69 L585.01,497.2 L586.63,496.76 L588.27,496.41 L589.96,496.19 L591.64,496.11 L593.29,496.13 L594.91,496.24 L596.54,496.41 L598.21,496.62 L599.94,496.86 L601.76,497.11 L603.7,497.34 L605.67,497.57 L607.61,497.83 L609.59,498.11 L611.65,498.41 L613.87,498.72 L616.3,499.03 L618.99,499.33 L622.02,499.63 L625.66,499.93 L630,500.25 L634.76,500.59 L639.65,500.92 L644.4,501.23 L648.72,501.51 L652.35,501.74 L654.99,501.92" stroke="#2018c8" stroke-width="2.0" fill="none" stroke-linejoin="round" />
<path d="M54.5,775.65h0 M55.9,776.43h0 M57.3,775.18h0 M58.7,773.6h0 M60.1,773.11h0 M61.5,775.47h0 M62.9,774.85h0 M64.3,773.21h0 M65.7,774.48h0 M67.1,773.91h0 M68.5,773.8h0 M69.9,770.92h0 M71.3,772.43h0 M72.7,773.25h0 M74.1,772.83h0 M75.5,772.68h0 M76.9,769.4h0 M78.3,771.47h0 M79.7,771.46h0 M81.1,773.02h0 M82.5,769.56h0 M83.9,769.82h0 M85.3,769.84h0 M86.7,770.29h0 M88.1,768.76h0 M89.5,769.85h0 M90.9,767.73h0 M92.3,768.28h0 M93.7,767.13h0 M95.1,767.27h0 M96.5,765.98h0 M97.9,764.62h0 M99.3,766.49h0 M100.7,765.22h0 M102.1,763.91h0 M103.5,764.09h0 M104.9,764.34h0 M106.3,762.15h0 M107.7,762.55h0 M109.1,762.76h0 M110.5,762.4h0 M111.9,761.31h0 M113.3,759.43h0 M114.7,762.19h0 M116.1,761.16h0 M117.5,760.71h0 M118.9,760.34h0 M120.3,760.81h0 M121.7,760.28h0 M123.1,759.9h0 M124.5,760.34h0 M125.9,760.66h0 M127.3,760.81h0 M128.7,760.42h0 M130.1,762.06h0 M131.5,760.22h0 M132.9,761.79h0 M134.3,760.01h0 M135.7,760.92h0 M137.1,761.46h0 M138.5,759.98h0 M139.9,758.66h0 M141.3,758.84h0 M142.7,758.37h0 M144.1,756.07h0 M145.5,756.44h0 M146.9,756.44h0 M148.3,755.13h0 M149.7,754.85h0 M151.1,754.63h0 M152.5,753.8h0 M153.9,753.04h0 M155.3,751.82h0 M156.7,750.05h0 M158.1,749.24h0 M159.5,747.89h0 M160.9,746.6h0 M162.3,745.29h0 M163.7,742.25h0 M165.1,741.7h0 M166.5,739.99h0 M167.9,736.97h0 M169.3,735.49h0 M170.7,733.54h0 M172.1,730.41h0 M173.5,729.84h0 M174.9,722.92h0 M176.3,722.25h0 M177.7,717.9h0 M179.1,717.53h0 M180.5,716.19h0 M181.9,708.84h0 M183.3,708.59h0 M184.7,706.34h0 M186.1,702.88h0 M187.5,700.71h0 M188.9,694.81h0 M190.3,693.8h0 M191.7,689.16h0 M193.1,684.25h0 M194.5,678.82h0 M195.9,674.79h0 M197.3,668.35h0 M198.7,663.35h0 M200.1,656.93h0 M201.5,649.55h0 M202.9,645.46h0 M204.3,639.35h0 M205.7,633.52h0 M207.1,626.07h0 M208.5,621.46h0 M209.9,617.12h0 M211.3,612.27h0 M212.7,609.96h0 M214.1,608.96h0 M215.5,606.38h0 M216.9,606.86h0 M218.3,611.86h0 M219.7,616h0 M221.1,620.79h0 M222.5,628.34h0 M223.9,635.1h0 M225.3,642.21h0 M226.7,650.66h0 M228.1,656.13h0 M229.5,662.69h0 M230.9,671.28h0 M232.3,682.81h0 M233.7,690.94h0 M235.1,697.14h0 M236.5,705.36h0 M237.9,714.53h0 M239.3,721.77h0 M240.7,731.2h0 M242.1,736.71h0 M243.5,741.87h0 M244.9,749.51h0 M246.3,752.69h0 M247.7,757.63h0 M249.1,760.8h0 M250.5,762.25h0 M251.9,763.96h0 M253.3,763.97h0 M254.7,763.69h0 M256.1,763.99h0 M257.5,765.39h0 M258.9,766.32h0 M260.3,767.4h0 M261.7,767.86h0 M263.1,768.65h0 M264.5,768.56h0 M265.9,768h0 M267.3,768.31h0 M268.7,767.24h0 M270.1,769.18h0 M271.5,769.93h0 M272.9,770.12h0 M274.3,769.69h0 M275.7,769.77h0 M277.1,770.91h0 M278.5,770.21h0 M279.9,771h0 M281.3,771h0 M282.7,770.8h0 M284.1,771.91h0 M285.5,770.35h0 M286.9,770.67h0 M288.3,770.38h0 M289.7,770.51h0 M291.1,772.74h0 M292.5,773.04h0 M293.9,771.59h0 M295.3,772.18h0 M296.7,772.84h0 M298.1,772.61h0 M299.5,773.07h0 M300.9,770.94h0 M302.3,771.59h0 M303.7,772.66h0 M305.1,773.62h0 M306.5,772.46h0 M307.9,771.56h0 M309.3,771.81h0" stroke="#000" stroke-width="3.7" stroke-linecap="round" fill="none"/>
<path d="M54,776.9 L54.5,776.9 L55,776.91 L55.5,776.91 L56,776.91 L56.5,776.92 L57,776.92 L57.5,776.92 L58,776.92 L58.5,776.93 L59,776.93 L59.5,776.93 L60,776.94 L60.5,776.94 L61,776.94 L61.5,776.95 L62,776.95 L62.5,776.95 L63,776.96 L63.5,776.96 L64,776.96 L64.5,776.97 L65,776.97 L65.5,776.97 L66,776.98 L66.5,776.98 L67,776.98 L67.5,776.98 L68,776.99 L68.5,776.99 L69,776.99 L69.5,777 L70,777 L70.5,777 L71,777.01 L71.5,777.01 L72,777.01 L72.5,777.02 L73,777.02 L73.5,777.02 L74,777.02 L74.5,777.03 L75,777.03 L75.5,777.03 L76,777.04 L76.5,777.04 L77,777.04 L77.5,777.05 L78,777.05 L78.5,777.05 L79,777.06 L79.5,777.06 L80,777.06 L80.5,777.07 L81,777.07 L81.5,777.07 L82,777.07 L82.5,777.08 L83,777.08 L83.5,777.08 L84,777.09 L84.5,777.09 L85,777.09 L85.5,777.1 L86,777.1 L86.5,777.1 L87,777.11 L87.5,777.11 L88,777.11 L88.5,777.12 L89,777.12 L89.5,777.12 L90,777.12 L90.5,777.13 L91,777.13 L91.5,777.13 L92,777.14 L92.5,777.14 L93,777.14 L93.5,777.15 L94,777.15 L94.5,777.15 L95,777.16 L95.5,777.16 L96,777.16 L96.5,777.17 L97,777.17 L97.5,777.17 L98,777.17 L98.5,777.18 L99,777.18 L99.5,777.18 L100,777.19 L100.5,777.19 L101,777.19 L101.5,777.2 L102,777.2 L102.5,777.2 L103,777.21 L103.5,777.21 L104,777.21 L104.5,777.22 L105,777.22 L105.5,777.22 L106,777.22 L106.5,777.23 L107,777.23 L107.5,777.23 L108,777.24 L108.5,777.24 L109,777.24 L109.5,777.25 L110,777.25 L110.5,777.25 L111,777.26 L111.5,777.26 L112,777.26 L112.5,777.27 L113,777.27 L113.5,777.27 L114,777.27 L114.5,777.28 L115,777.28 L115.5,777.28 L116,777.29 L116.5,777.29 L117,777.29 L117.5,777.3 L118,777.3 L118.5,777.3 L119,777.31 L119.5,777.31 L120,777.31 L120.5,777.32 L121,777.32 L121.5,777.32 L122,777.32 L122.5,777.33 L123,777.33 L123.5,777.33 L124,777.34 L124.5,777.34 L125,777.34 L125.5,777.35 L126,777.35 L126.5,777.35 L127,777.36 L127.5,777.36 L128,777.36 L128.5,777.37 L129,777.37 L129.5,777.37 L130,777.37 L130.5,777.38 L131,777.38 L131.5,777.38 L132,777.39 L132.5,777.39 L133,777.39 L133.5,777.4 L134,777.4 L134.5,777.4 L135,777.41 L135.5,777.41 L136,777.41 L136.5,777.41 L137,777.42 L137.5,777.42 L138,777.42 L138.5,777.42 L139,777.43 L139.5,777.43 L140,777.43 L140.5,777.44 L141,777.44 L141.5,777.44 L142,777.44 L142.5,777.44 L143,777.45 L143.5,777.45 L144,777.45 L144.5,777.45 L145,777.45 L145.5,777.45 L146,777.45 L146.5,777.45 L147,777.45 L147.5,777.45 L148,777.45 L148.5,777.44 L149,777.44 L149.5,777.44 L150,777.43 L150.5,777.41 L151,777.38 L151.5,777.35 L152,777.32 L152.5,777.29 L153,777.26 L153.5,777.23 L154,777.19 L154.5,777.15 L155,777.11 L155.5,777.07 L156,777.02 L156.5,776.98 L157,776.92 L157.5,776.87 L158,776.81 L158.5,776.74 L159,776.67 L159.5,776.6 L160,776.52 L160.5,776.43 L161,776.34 L161.5,776.24 L162,776.13 L162.5,776.01 L163,775.88 L163.5,775.74 L164,775.6 L164.5,775.43 L165,775.26 L165.5,775.08 L166,774.87 L166.5,774.66 L167,774.42 L167.5,774.17 L168,773.9 L168.5,773.61 L169,773.3 L169.5,772.96 L170,772.6 L170.5,772.22 L171,771.81 L171.5,771.36 L172,770.89 L172.5,770.39 L173,769.85 L173.5,769.27 L174,768.66 L174.5,768.01 L175,767.32 L175.5,766.58 L176,765.8 L176.5,764.98 L177,764.1 L177.5,763.18 L178,762.2 L178.5,761.17 L179,760.08 L179.5,758.94 L180,757.73 L180.5,756.45 L181,755.12 L181.5,753.71 L182,752.24 L182.5,750.71 L183,749.11 L183.5,747.43 L184,745.69 L184.5,743.88 L185,741.99 L185.5,740.04 L186,738.01 L186.5,735.91 L187,733.73 L187.5,731.49 L188,729.18 L188.5,726.79 L189,724.34 L189.5,721.81 L190,719.23 L190.5,716.57 L191,713.86 L191.5,711.09 L192,708.26 L192.5,705.38 L193,702.44 L193.5,699.46 L194,696.44 L194.5,693.38 L195,690.28 L195.5,687.16 L196,684.01 L196.5,680.84 L197,677.66 L197.5,674.47 L198,671.28 L198.5,668.1 L199,664.92 L199.5,661.76 L200,658.62 L200.5,655.52 L201,652.45 L201.5,649.42 L202,646.45 L202.5,643.53 L203,640.68 L203.5,637.9 L204,635.2 L204.5,632.58 L205,630.05 L205.5,627.62 L206,625.3 L206.5,623.08 L207,620.98 L207.5,619.01 L208,617.16 L208.5,615.44 L209,613.86 L209.5,612.42 L210,611.12 L210.5,609.97 L211,608.98 L211.5,608.14 L212,607.45 L212.5,606.93 L213,606.56 L213.5,606.36 L214,606.32 L214.5,606.43 L215,606.71 L215.5,607.14 L216,607.73 L216.5,608.47 L217,609.36 L217.5,610.41 L218,611.6 L218.5,612.93 L219,614.41 L219.5,616.02 L220,617.76 L220.5,619.62 L221,621.61 L221.5,623.72 L222,625.93 L222.5,628.25 L223,630.67 L223.5,633.17 L224,635.77 L224.5,638.44 L225,641.19 L225.5,644 L226,646.87 L226.5,649.8 L227,652.77 L227.5,655.78 L228,658.82 L228.5,661.89 L229,664.97 L229.5,668.07 L230,671.18 L230.5,674.3 L231,677.42 L231.5,680.53 L232,683.62 L232.5,686.69 L233,689.73 L233.5,692.74 L234,695.72 L234.5,698.65 L235,701.55 L235.5,704.39 L236,707.19 L236.5,709.93 L237,712.61 L237.5,715.24 L238,717.8 L238.5,720.3 L239,722.74 L239.5,725.11 L240,727.41 L240.5,729.64 L241,731.8 L241.5,733.89 L242,735.91 L242.5,737.86 L243,739.74 L243.5,741.54 L244,743.28 L244.5,744.95 L245,746.55 L245.5,748.08 L246,749.55 L246.5,750.95 L247,752.28 L247.5,753.56 L248,754.77 L248.5,755.92 L249,757.02 L249.5,758.05 L250,759.04 L250.5,759.97 L251,760.85 L251.5,761.68 L252,762.46 L252.5,763.2 L253,763.89 L253.5,764.54 L254,765.15 L254.5,765.73 L255,766.26 L255.5,766.76 L256,767.23 L256.5,767.67 L257,768.08 L257.5,768.45 L258,768.81 L258.5,769.13 L259,769.43 L259.5,769.71 L260,769.97 L260.5,770.21 L261,770.43 L261.5,770.63 L262,770.82 L262.5,770.99 L263,771.14 L263.5,771.28 L264,771.41 L264.5,771.53 L265,771.64 L265.5,771.74 L266,771.82 L266.5,771.9 L267,771.97 L267.5,772.04 L268,772.09 L268.5,772.15 L269,772.19 L269.5,772.23 L270,772.26 L270.5,772.29 L271,772.32 L271.5,772.34 L272,772.36 L272.5,772.38 L273,772.39 L273.5,772.4 L274,772.41 L274.5,772.41 L275,772.42 L275.5,772.42 L276,772.42 L276.5,772.42 L277,772.42 L277.5,772.41 L278,772.41 L278.5,772.4 L279,772.4 L279.5,772.39 L280,772.38 L280.5,772.37 L281,772.36 L281.5,772.35 L282,772.34 L282.5,772.33 L283,772.32 L283.5,772.31 L284,772.3 L284.5,772.29 L285,772.28 L285.5,772.26 L286,772.25 L286.5,772.24 L287,772.23 L287.5,772.21 L288,772.2 L288.5,772.19 L289,772.17 L289.5,772.16 L290,772.15 L290.5,772.13 L291,772.12 L291.5,772.11 L292,772.09 L292.5,772.08 L293,772.07 L293.5,772.05 L294,772.04 L294.5,772.03 L295,772.01 L295.5,772 L296,771.98 L296.5,771.97 L297,771.96 L297.5,771.94 L298,771.93 L298.5,771.92 L299,771.9 L299.5,771.89 L300,771.87 L300.5,771.86 L301,771.85 L301.5,771.83 L302,771.82 L302.5,771.81 L303,771.79 L303.5,771.78 L304,771.76 L304.5,771.75 L305,771.74 L305.5,771.72 L306,771.71 L306.5,771.7 L307,771.68 L307.5,771.67 L308,771.65 L308.5,771.64 L309,771.63 L309.5,771.61 L310,771.6" stroke="#d42020" stroke-width="1.9" fill="none" stroke-linejoin="round" />
<path d="M54,776.9 L54.5,776.9 L55,776.91 L55.5,776.91 L56,776.91 L56.5,776.92 L57,776.92 L57.5,776.92 L58,776.92 L58.5,776.93 L59,776.93 L59.5,776.93 L60,776.94 L60.5,776.94 L61,776.94 L61.5,776.95 L62,776.95 L62.5,776.95 L63,776.96 L63.5,776.96 L64,776.96 L64.5,776.97 L65,776.97 L65.5,776.97 L66,776.97 L66.5,776.98 L67,776.98 L67.5,776.98 L68,776.99 L68.5,776.99 L69,776.99 L69.5,777 L70,777 L70.5,777 L71,777.01 L71.5,777.01 L72,777.01 L72.5,777.02 L73,777.02 L73.5,777.02 L74,777.02 L74.5,777.03 L75,777.03 L75.5,777.03 L76,777.04 L76.5,777.04 L77,777.04 L77.5,777.05 L78,777.05 L78.5,777.05 L79,777.06 L79.5,777.06 L80,777.06 L80.5,777.07 L81,777.07 L81.5,777.07 L82,777.07 L82.5,777.08 L83,777.08 L83.5,777.08 L84,777.09 L84.5,777.09 L85,777.09 L85.5,777.1 L86,777.1 L86.5,777.1 L87,777.11 L87.5,777.11 L88,777.11 L88.5,777.12 L89,777.12 L89.5,777.12 L90,777.12 L90.5,777.13 L91,777.13 L91.5,777.13 L92,777.14 L92.5,777.14 L93,777.14 L93.5,777.15 L94,777.15 L94.5,777.15 L95,777.15 L95.5,777.16 L96,777.16 L96.5,777.16 L97,777.17 L97.5,777.17 L98,777.17 L98.5,777.17 L99,777.18 L99.5,777.18 L100,777.18 L100.5,777.18 L101,777.18 L101.5,777.19 L102,777.19 L102.5,777.19 L103,777.19 L103.5,777.19 L104,777.19 L104.5,777.19 L105,777.19 L105.5,777.19 L106,777.19 L106.5,777.19 L107,777.19 L107.5,777.19 L108,777.19 L108.5,777.19 L109,777.19 L109.5,777.18 L110,777.18 L110.5,777.17 L111,777.17 L111.5,777.16 L112,777.15 L112.5,777.15 L113,777.14 L113.5,777.13 L114,777.11 L114.5,777.1 L115,777.09 L115.5,777.07 L116,777.05 L116.5,777.03 L117,777.01 L117.5,776.99 L118,776.96 L118.5,776.93 L119,776.9 L119.5,776.86 L120,776.83 L120.5,776.79 L121,776.74 L121.5,776.69 L122,776.64 L122.5,776.59 L123,776.53 L123.5,776.46 L124,776.39 L124.5,776.32 L125,776.23 L125.5,776.15 L126,776.05 L126.5,775.96 L127,775.85 L127.5,775.74 L128,775.61 L128.5,775.49 L129,775.35 L129.5,775.2 L130,775.05 L130.5,774.88 L131,774.71 L131.5,774.53 L132,774.33 L132.5,774.13 L133,773.91 L133.5,773.68 L134,773.44 L134.5,773.19 L135,772.92 L135.5,772.64 L136,772.35 L136.5,772.04 L137,771.72 L137.5,771.39 L138,771.04 L138.5,770.68 L139,770.3 L139.5,769.91 L140,769.5 L140.5,769.07 L141,768.63 L141.5,768.18 L142,767.7 L142.5,767.22 L143,766.72 L143.5,766.2 L144,765.66 L144.5,765.12 L145,764.55 L145.5,763.97 L146,763.38 L146.5,762.78 L147,762.16 L147.5,761.53 L148,760.88 L148.5,760.23 L149,759.56 L149.5,758.88 L150,758.2 L150.5,757.48 L151,756.76 L151.5,756.03 L152,755.3 L152.5,754.56 L153,753.81 L153.5,753.07 L154,752.32 L154.5,751.58 L155,750.83 L155.5,750.09 L156,749.35 L156.5,748.61 L157,747.89 L157.5,747.17 L158,746.46 L158.5,745.76 L159,745.07 L159.5,744.39 L160,743.73 L160.5,743.09 L161,742.47 L161.5,741.86 L162,741.27 L162.5,740.71 L163,740.17 L163.5,739.65 L164,739.16 L164.5,738.69 L165,738.25 L165.5,737.84 L166,737.46 L166.5,737.12 L167,736.8 L167.5,736.51 L168,736.26 L168.5,736.04 L169,735.85 L169.5,735.7 L170,735.58 L170.5,735.5 L171,735.45 L171.5,735.43 L172,735.45 L172.5,735.5 L173,735.59 L173.5,735.7 L174,735.85 L174.5,736.03 L175,736.24 L175.5,736.48 L176,736.75 L176.5,737.05 L177,737.38 L177.5,737.74 L178,738.12 L178.5,738.53 L179,738.96 L179.5,739.42 L180,739.9 L180.5,740.39 L181,740.9 L181.5,741.44 L182,741.99 L182.5,742.56 L183,743.14 L183.5,743.74 L184,744.35 L184.5,744.97 L185,745.61 L185.5,746.25 L186,746.9 L186.5,747.56 L187,748.23 L187.5,748.9 L188,749.58 L188.5,750.25 L189,750.93 L189.5,751.61 L190,752.28 L190.5,752.96 L191,753.63 L191.5,754.3 L192,754.96 L192.5,755.61 L193,756.26 L193.5,756.9 L194,757.54 L194.5,758.16 L195,758.77 L195.5,759.38 L196,759.97 L196.5,760.55 L197,761.12 L197.5,761.67 L198,762.21 L198.5,762.74 L199,763.26 L199.5,763.76 L200,764.25 L200.5,764.72 L201,765.18 L201.5,765.63 L202,766.06 L202.5,766.47 L203,766.87 L203.5,767.26 L204,767.63 L204.5,767.99 L205,768.33 L205.5,768.66 L206,768.98 L206.5,769.28 L207,769.57 L207.5,769.85 L208,770.11 L208.5,770.36 L209,770.6 L209.5,770.82 L210,771.04 L210.5,771.24 L211,771.43 L211.5,771.61 L212,771.78 L212.5,771.94 L213,772.09 L213.5,772.24 L214,772.37 L214.5,772.49 L215,772.61 L215.5,772.71 L216,772.81 L216.5,772.91 L217,772.99 L217.5,773.07 L218,773.14 L218.5,773.21 L219,773.27 L219.5,773.33 L220,773.38 L220.5,773.42 L221,773.46 L221.5,773.5 L222,773.53 L222.5,773.56 L223,773.58 L223.5,773.6 L224,773.62 L224.5,773.63 L225,773.64 L225.5,773.65 L226,773.65 L226.5,773.66 L227,773.66 L227.5,773.66 L228,773.65 L228.5,773.65 L229,773.64 L229.5,773.63 L230,773.62 L230.5,773.63 L231,773.63 L231.5,773.63 L232,773.62 L232.5,773.62 L233,773.62 L233.5,773.61 L234,773.61 L234.5,773.6 L235,773.6 L235.5,773.59 L236,773.58 L236.5,773.57 L237,773.56 L237.5,773.55 L238,773.54 L238.5,773.53 L239,773.52 L239.5,773.51 L240,773.5 L240.5,773.49 L241,773.48 L241.5,773.47 L242,773.45 L242.5,773.44 L243,773.43 L243.5,773.42 L244,773.41 L244.5,773.39 L245,773.38 L245.5,773.37 L246,773.35 L246.5,773.34 L247,773.33 L247.5,773.31 L248,773.3 L248.5,773.29 L249,773.27 L249.5,773.26 L250,773.25 L250.5,773.23 L251,773.22 L251.5,773.21 L252,773.19 L252.5,773.18 L253,773.17 L253.5,773.15 L254,773.14 L254.5,773.13 L255,773.11 L255.5,773.1 L256,773.08 L256.5,773.07 L257,773.06 L257.5,773.04 L258,773.03 L258.5,773.02 L259,773 L259.5,772.99 L260,772.97 L260.5,772.96 L261,772.95 L261.5,772.93 L262,772.92 L262.5,772.91 L263,772.89 L263.5,772.88 L264,772.86 L264.5,772.85 L265,772.84 L265.5,772.82 L266,772.81 L266.5,772.8 L267,772.78 L267.5,772.77 L268,772.75 L268.5,772.74 L269,772.73 L269.5,772.71 L270,772.7 L270.5,772.69 L271,772.67 L271.5,772.66 L272,772.64 L272.5,772.63 L273,772.62 L273.5,772.6 L274,772.59 L274.5,772.58 L275,772.56 L275.5,772.55 L276,772.53 L276.5,772.52 L277,772.51 L277.5,772.49 L278,772.48 L278.5,772.47 L279,772.45 L279.5,772.44 L280,772.42 L280.5,772.41 L281,772.4 L281.5,772.38 L282,772.37 L282.5,772.36 L283,772.34 L283.5,772.33 L284,772.31 L284.5,772.3 L285,772.29 L285.5,772.27 L286,772.26 L286.5,772.25 L287,772.23 L287.5,772.22 L288,772.2 L288.5,772.19 L289,772.18 L289.5,772.16 L290,772.15 L290.5,772.14 L291,772.12 L291.5,772.11 L292,772.09 L292.5,772.08 L293,772.07 L293.5,772.05 L294,772.04 L294.5,772.03 L295,772.01 L295.5,772 L296,771.98 L296.5,771.97 L297,771.96 L297.5,771.94 L298,771.93 L298.5,771.92 L299,771.9 L299.5,771.89 L300,771.87 L300.5,771.86 L301,771.85 L301.5,771.83 L302,771.82 L302.5,771.81 L303,771.79 L303.5,771.78 L304,771.76 L304.5,771.75 L305,771.74 L305.5,771.72 L306,771.71 L306.5,771.7 L307,771.68 L307.5,771.67 L308,771.65 L308.5,771.64 L309,771.63 L309.5,771.61 L310,771.6" stroke="#28963c" stroke-width="1.9" fill="none" stroke-linejoin="round" />
<path d="M54,776.45 L54.5,776.45 L55,776.44 L55.5,776.44 L56,776.44 L56.5,776.43 L57,776.43 L57.5,776.42 L58,776.42 L58.5,776.41 L59,776.4 L59.5,776.4 L60,776.39 L60.5,776.38 L61,776.38 L61.5,776.37 L62,776.36 L62.5,776.35 L63,776.34 L63.5,776.33 L64,776.32 L64.5,776.31 L65,776.3 L65.5,776.29 L66,776.27 L66.5,776.26 L67,776.24 L67.5,776.23 L68,776.21 L68.5,776.19 L69,776.17 L69.5,776.15 L70,776.13 L70.5,776.11 L71,776.09 L71.5,776.06 L72,776.03 L72.5,776 L73,775.97 L73.5,775.94 L74,775.91 L74.5,775.87 L75,775.83 L75.5,775.79 L76,775.75 L76.5,775.7 L77,775.65 L77.5,775.6 L78,775.55 L78.5,775.49 L79,775.43 L79.5,775.37 L80,775.3 L80.5,775.23 L81,775.16 L81.5,775.08 L82,775 L82.5,774.91 L83,774.82 L83.5,774.73 L84,774.63 L84.5,774.52 L85,774.41 L85.5,774.3 L86,774.18 L86.5,774.05 L87,773.92 L87.5,773.79 L88,773.65 L88.5,773.5 L89,773.35 L89.5,773.19 L90,773.02 L90.5,772.85 L91,772.68 L91.5,772.49 L92,772.3 L92.5,772.11 L93,771.91 L93.5,771.7 L94,771.49 L94.5,771.27 L95,771.04 L95.5,770.81 L96,770.58 L96.5,770.33 L97,770.09 L97.5,769.83 L98,769.58 L98.5,769.31 L99,769.05 L99.5,768.77 L100,768.5 L100.5,768.22 L101,767.94 L101.5,767.65 L102,767.36 L102.5,767.07 L103,766.78 L103.5,766.48 L104,766.19 L104.5,765.9 L105,765.6 L105.5,765.31 L106,765.01 L106.5,764.72 L107,764.44 L107.5,764.15 L108,763.87 L108.5,763.6 L109,763.33 L109.5,763.06 L110,762.81 L110.5,762.56 L111,762.32 L111.5,762.09 L112,761.87 L112.5,761.66 L113,761.46 L113.5,761.27 L114,761.1 L114.5,760.94 L115,760.8 L115.5,760.67 L116,760.56 L116.5,760.47 L117,760.39 L117.5,760.33 L118,760.29 L118.5,760.26 L119,760.25 L119.5,760.26 L120,760.28 L120.5,760.31 L121,760.36 L121.5,760.41 L122,760.48 L122.5,760.56 L123,760.65 L123.5,760.76 L124,760.87 L124.5,760.99 L125,761.13 L125.5,761.27 L126,761.43 L126.5,761.59 L127,761.77 L127.5,761.95 L128,762.14 L128.5,762.34 L129,762.55 L129.5,762.77 L130,762.99 L130.5,763.22 L131,763.46 L131.5,763.7 L132,763.94 L132.5,764.2 L133,764.45 L133.5,764.71 L134,764.98 L134.5,765.25 L135,765.52 L135.5,765.79 L136,766.06 L136.5,766.34 L137,766.62 L137.5,766.9 L138,767.17 L138.5,767.45 L139,767.73 L139.5,768.01 L140,768.28 L140.5,768.56 L141,768.83 L141.5,769.1 L142,769.37 L142.5,769.63 L143,769.89 L143.5,770.15 L144,770.4 L144.5,770.65 L145,770.9 L145.5,771.14 L146,771.38 L146.5,771.61 L147,771.84 L147.5,772.07 L148,772.29 L148.5,772.5 L149,772.71 L149.5,772.91 L150,773.11 L150.5,773.28 L151,773.45 L151.5,773.61 L152,773.77 L152.5,773.92 L153,774.07 L153.5,774.21 L154,774.34 L154.5,774.47 L155,774.6 L155.5,774.72 L156,774.83 L156.5,774.94 L157,775.05 L157.5,775.15 L158,775.24 L158.5,775.33 L159,775.42 L159.5,775.5 L160,775.58 L160.5,775.65 L161,775.72 L161.5,775.79 L162,775.85 L162.5,775.91 L163,775.96 L163.5,776.01 L164,776.06 L164.5,776.1 L165,776.14 L165.5,776.18 L166,776.21 L166.5,776.25 L167,776.28 L167.5,776.3 L168,776.33 L168.5,776.35 L169,776.37 L169.5,776.39 L170,776.4 L170.5,776.41 L171,776.43 L171.5,776.44 L172,776.44 L172.5,776.45 L173,776.46 L173.5,776.46 L174,776.46 L174.5,776.46 L175,776.46 L175.5,776.46 L176,776.46 L176.5,776.46 L177,776.45 L177.5,776.45 L178,776.44 L178.5,776.44 L179,776.43 L179.5,776.42 L180,776.41 L180.5,776.39 L181,776.37 L181.5,776.35 L182,776.33 L182.5,776.31 L183,776.29 L183.5,776.26 L184,776.24 L184.5,776.22 L185,776.19 L185.5,776.17 L186,776.15 L186.5,776.12 L187,776.1 L187.5,776.07 L188,776.05 L188.5,776.02 L189,776 L189.5,775.97 L190,775.95 L190.5,775.92 L191,775.89 L191.5,775.87 L192,775.84 L192.5,775.82 L193,775.79 L193.5,775.76 L194,775.74 L194.5,775.71 L195,775.69 L195.5,775.66 L196,775.63 L196.5,775.61 L197,775.58 L197.5,775.55 L198,775.53 L198.5,775.5 L199,775.47 L199.5,775.45 L200,775.42 L200.5,775.39 L201,775.36 L201.5,775.34 L202,775.31 L202.5,775.28 L203,775.26 L203.5,775.23 L204,775.2 L204.5,775.18 L205,775.15 L205.5,775.12 L206,775.1 L206.5,775.07 L207,775.04 L207.5,775.01 L208,774.99 L208.5,774.96 L209,774.93 L209.5,774.91 L210,774.88 L210.5,774.85 L211,774.83 L211.5,774.8 L212,774.77 L212.5,774.74 L213,774.72 L213.5,774.69 L214,774.66 L214.5,774.64 L215,774.61 L215.5,774.58 L216,774.56 L216.5,774.53 L217,774.5 L217.5,774.47 L218,774.45 L218.5,774.42 L219,774.39 L219.5,774.37 L220,774.34 L220.5,774.31 L221,774.29 L221.5,774.26 L222,774.23 L222.5,774.2 L223,774.18 L223.5,774.15 L224,774.12 L224.5,774.1 L225,774.07 L225.5,774.04 L226,774.02 L226.5,773.99 L227,773.96 L227.5,773.93 L228,773.91 L228.5,773.88 L229,773.85 L229.5,773.83 L230,773.8 L230.5,773.79 L231,773.77 L231.5,773.76 L232,773.74 L232.5,773.73 L233,773.72 L233.5,773.7 L234,773.69 L234.5,773.68 L235,773.66 L235.5,773.65 L236,773.63 L236.5,773.62 L237,773.61 L237.5,773.59 L238,773.58 L238.5,773.57 L239,773.55 L239.5,773.54 L240,773.52 L240.5,773.51 L241,773.5 L241.5,773.48 L242,773.47 L242.5,773.46 L243,773.44 L243.5,773.43 L244,773.41 L244.5,773.4 L245,773.39 L245.5,773.37 L246,773.36 L246.5,773.35 L247,773.33 L247.5,773.32 L248,773.3 L248.5,773.29 L249,773.28 L249.5,773.26 L250,773.25 L250.5,773.24 L251,773.22 L251.5,773.21 L252,773.19 L252.5,773.18 L253,773.17 L253.5,773.15 L254,773.14 L254.5,773.13 L255,773.11 L255.5,773.1 L256,773.08 L256.5,773.07 L257,773.06 L257.5,773.04 L258,773.03 L258.5,773.02 L259,773 L259.5,772.99 L260,772.97 L260.5,772.96 L261,772.95 L261.5,772.93 L262,772.92 L262.5,772.91 L263,772.89 L263.5,772.88 L264,772.86 L264.5,772.85 L265,772.84 L265.5,772.82 L266,772.81 L266.5,772.8 L267,772.78 L267.5,772.77 L268,772.75 L268.5,772.74 L269,772.73 L269.5,772.71 L270,772.7 L270.5,772.69 L271,772.67 L271.5,772.66 L272,772.64 L272.5,772.63 L273,772.62 L273.5,772.6 L274,772.59 L274.5,772.58 L275,772.56 L275.5,772.55 L276,772.53 L276.5,772.52 L277,772.51 L277.5,772.49 L278,772.48 L278.5,772.47 L279,772.45 L279.5,772.44 L280,772.42 L280.5,772.41 L281,772.4 L281.5,772.38 L282,772.37 L282.5,772.36 L283,772.34 L283.5,772.33 L284,772.32 L284.5,772.3 L285,772.29 L285.5,772.27 L286,772.26 L286.5,772.25 L287,772.23 L287.5,772.22 L288,772.21 L288.5,772.19 L289,772.18 L289.5,772.16 L290,772.15 L290.5,772.14 L291,772.12 L291.5,772.11 L292,772.1 L292.5,772.08 L293,772.07 L293.5,772.05 L294,772.04 L294.5,772.03 L295,772.01 L295.5,772 L296,771.99 L296.5,771.97 L297,771.96 L297.5,771.94 L298,771.93 L298.5,771.92 L299,771.9 L299.5,771.89 L300,771.88 L300.5,771.86 L301,771.85 L301.5,771.83 L302,771.82 L302.5,771.81 L303,771.79 L303.5,771.78 L304,771.76 L304.5,771.75 L305,771.74 L305.5,771.72 L306,771.71 L306.5,771.7 L307,771.68 L307.5,771.67 L308,771.65 L308.5,771.64 L309,771.63 L309.5,771.61 L310,771.6" stroke="#2018c8" stroke-width="1.9" fill="none" stroke-linejoin="round" />
<path d="M399.5,754.45h0 M400.6,754.29h0 M401.7,754.9h0 M402.8,754.16h0 M403.9,754.26h0 M405,754.8h0 M406.1,754.4h0 M407.2,754.05h0 M408.3,753.66h0 M409.4,753.86h0 M410.5,754.11h0 M411.6,753.7h0 M412.7,753.78h0 M413.8,753.32h0 M414.9,753.32h0 M416,752.98h0 M417.1,753.04h0 M418.2,753.16h0 M419.3,752.21h0 M420.4,752.47h0 M421.5,752.42h0 M422.6,752.03h0 M423.7,751.95h0 M424.8,752.13h0 M425.9,752.33h0 M427,751.76h0 M428.1,751.5h0 M429.2,750.77h0 M430.3,751.64h0 M431.4,750.91h0 M432.5,750.7h0 M433.6,750.19h0 M434.7,750.32h0 M435.8,749.82h0 M436.9,749.96h0 M438,749.87h0 M439.1,749.52h0 M440.2,749.37h0 M441.3,748.8h0 M442.4,749.25h0 M443.5,748.39h0 M444.6,747.8h0 M445.7,748.05h0 M446.8,747.64h0 M447.9,747.33h0 M449,747.29h0 M450.1,747.26h0 M451.2,746.6h0 M452.3,746.71h0 M453.4,746.98h0 M454.5,746.57h0 M455.6,746.14h0 M456.7,746.05h0 M457.8,745.81h0 M458.9,745.67h0 M460,745.74h0 M461.1,745.35h0 M462.2,744.52h0 M463.3,745.1h0 M464.4,744.72h0 M465.5,745.08h0 M466.6,744.61h0 M467.7,744.78h0 M468.8,745.35h0 M469.9,744.39h0 M471,744.44h0 M472.1,744.49h0 M473.2,744.38h0 M474.3,744.72h0 M475.4,745.56h0 M476.5,745.37h0 M477.6,745.04h0 M478.7,745.14h0 M479.8,745.72h0 M480.9,745.24h0 M482,745.27h0 M483.1,745.36h0 M484.2,745.52h0 M485.3,745.52h0 M486.4,745.03h0 M487.5,744.51h0 M488.6,744.22h0 M489.7,744.36h0 M490.8,743.84h0 M491.9,742.86h0 M493,742.57h0 M494.1,741.91h0 M495.2,741.15h0 M496.3,740.18h0 M497.4,738.99h0 M498.5,738.13h0 M499.6,736.58h0 M500.7,736.05h0 M501.8,734.35h0 M502.9,732.17h0 M504,731.1h0 M505.1,728.87h0 M506.2,725.79h0 M507.3,724.49h0 M508.4,721.55h0 M509.5,718.99h0 M510.6,714.64h0 M511.7,711.2h0 M512.8,706.6h0 M513.9,701.57h0 M515,696.48h0 M516.1,691.35h0 M517.2,684.98h0 M518.3,679.46h0 M519.4,674.01h0 M520.5,668.78h0 M521.6,663.32h0 M522.7,658.65h0 M523.8,654.58h0 M524.9,651.56h0 M526,649.17h0 M527.1,647.54h0 M528.2,646.51h0 M529.3,645.28h0 M530.4,644.49h0 M531.5,644.34h0 M532.6,645.39h0 M533.7,645.9h0 M534.8,647.69h0 M535.9,649.3h0 M537,650.54h0 M538.1,652.54h0 M539.2,653.44h0 M540.3,655.09h0 M541.4,655.31h0 M542.5,654.67h0 M543.6,654.73h0 M544.7,653.19h0 M545.8,652.16h0 M546.9,649.33h0 M548,646.85h0 M549.1,644.06h0 M550.2,640.7h0 M551.3,637.44h0 M552.4,633.35h0 M553.5,629.53h0 M554.6,625.04h0 M555.7,620.93h0 M556.8,615.99h0 M557.9,613.18h0 M559,609.53h0 M560.1,606.58h0 M561.2,605.47h0 M562.3,604.44h0 M563.4,603.92h0 M564.5,603h0 M565.6,604.3h0 M566.7,605.41h0 M567.8,608.91h0 M568.9,611.57h0 M570,615.5h0 M571.1,619.2h0 M572.2,623.41h0 M573.3,629.08h0 M574.4,634.79h0 M575.5,641.16h0 M576.6,647.05h0 M577.7,652.71h0 M578.8,658.4h0 M579.9,664.3h0 M581,669.76h0 M582.1,674.68h0 M583.2,678.79h0 M584.3,680.98h0 M585.4,682.23h0 M586.5,683.41h0 M587.6,684.28h0 M588.7,685.35h0 M589.8,686.19h0 M590.9,686.88h0 M592,687.21h0 M593.1,687.74h0 M594.2,689.87h0 M595.3,691.59h0 M596.4,694.57h0 M597.5,697.28h0 M598.6,702.45h0 M599.7,709.08h0 M600.8,715.83h0 M601.9,722.76h0 M603,729.29h0 M604.1,735.32h0 M605.2,741.08h0 M606.3,745.85h0 M607.4,750.81h0 M608.5,755.76h0 M609.6,759.68h0 M610.7,762.86h0 M611.8,765.31h0 M612.9,768.24h0 M614,769.93h0 M615.1,771.12h0 M616.2,771.78h0 M617.3,772.87h0 M618.4,773.83h0 M619.5,774.27h0 M620.6,774.65h0 M621.7,776h0 M622.8,776.65h0 M623.9,777.04h0 M625,777.8h0 M626.1,777.92h0 M627.2,778.27h0 M628.3,778.3h0 M629.4,778.63h0 M630.5,779h0 M631.6,778.49h0 M632.7,779.23h0 M633.8,779.1h0 M634.9,778.91h0 M636,778.87h0 M637.1,779.25h0 M638.2,778.69h0 M639.3,778.73h0 M640.4,778.46h0 M641.5,778.94h0 M642.6,779.22h0 M643.7,779h0 M644.8,778.98h0 M645.9,778.81h0 M647,778.94h0 M648.1,778.47h0 M649.2,779.23h0 M650.3,778.81h0 M651.4,778.61h0 M652.5,778.73h0 M653.6,778.73h0 M654.7,779.25h0" stroke="#000" stroke-width="3.7" stroke-linecap="round" fill="none"/>
<path d="M399,755.5 L399.5,755.5 L400,755.5 L400.5,755.5 L401,755.5 L401.5,755.5 L402,755.5 L402.5,755.5 L403,755.49 L403.5,755.49 L404,755.49 L404.5,755.49 L405,755.49 L405.5,755.49 L406,755.49 L406.5,755.49 L407,755.49 L407.5,755.49 L408,755.49 L408.5,755.48 L409,755.48 L409.5,755.48 L410,755.48 L410.5,755.48 L411,755.48 L411.5,755.48 L412,755.48 L412.5,755.48 L413,755.48 L413.5,755.47 L414,755.47 L414.5,755.47 L415,755.47 L415.5,755.47 L416,755.47 L416.5,755.47 L417,755.47 L417.5,755.47 L418,755.47 L418.5,755.46 L419,755.46 L419.5,755.46 L420,755.46 L420.5,755.46 L421,755.46 L421.5,755.46 L422,755.46 L422.5,755.45 L423,755.45 L423.5,755.45 L424,755.45 L424.5,755.45 L425,755.45 L425.5,755.45 L426,755.44 L426.5,755.44 L427,755.44 L427.5,755.44 L428,755.44 L428.5,755.44 L429,755.43 L429.5,755.43 L430,755.43 L430.5,755.43 L431,755.43 L431.5,755.43 L432,755.43 L432.5,755.42 L433,755.42 L433.5,755.42 L434,755.42 L434.5,755.42 L435,755.41 L435.5,755.41 L436,755.41 L436.5,755.41 L437,755.41 L437.5,755.4 L438,755.4 L438.5,755.4 L439,755.4 L439.5,755.4 L440,755.39 L440.5,755.39 L441,755.39 L441.5,755.39 L442,755.38 L442.5,755.38 L443,755.38 L443.5,755.38 L444,755.37 L444.5,755.37 L445,755.37 L445.5,755.37 L446,755.36 L446.5,755.36 L447,755.36 L447.5,755.36 L448,755.35 L448.5,755.35 L449,755.35 L449.5,755.34 L450,755.34 L450.5,755.34 L451,755.34 L451.5,755.33 L452,755.33 L452.5,755.33 L453,755.32 L453.5,755.32 L454,755.32 L454.5,755.33 L455,755.34 L455.5,755.35 L456,755.36 L456.5,755.36 L457,755.37 L457.5,755.38 L458,755.39 L458.5,755.4 L459,755.4 L459.5,755.41 L460,755.42 L460.5,755.42 L461,755.43 L461.5,755.44 L462,755.44 L462.5,755.45 L463,755.46 L463.5,755.46 L464,755.47 L464.5,755.47 L465,755.48 L465.5,755.48 L466,755.49 L466.5,755.49 L467,755.49 L467.5,755.49 L468,755.49 L468.5,755.49 L469,755.49 L469.5,755.49 L470,755.49 L470.5,755.49 L471,755.48 L471.5,755.48 L472,755.47 L472.5,755.46 L473,755.45 L473.5,755.44 L474,755.42 L474.5,755.41 L475,755.39 L475.5,755.37 L476,755.34 L476.5,755.31 L477,755.28 L477.5,755.25 L478,755.21 L478.5,755.16 L479,755.11 L479.5,755.06 L480,755 L480.5,754.93 L481,754.86 L481.5,754.78 L482,754.7 L482.5,754.6 L483,754.5 L483.5,754.38 L484,754.26 L484.5,754.13 L485,753.98 L485.5,753.82 L486,753.65 L486.5,753.47 L487,753.27 L487.5,753.05 L488,752.82 L488.5,752.57 L489,752.3 L489.5,752.01 L490,751.7 L490.5,751.38 L491,751.03 L491.5,750.65 L492,750.26 L492.5,749.83 L493,749.38 L493.5,748.9 L494,748.39 L494.5,747.85 L495,747.27 L495.5,746.66 L496,746.02 L496.5,745.34 L497,744.63 L497.5,743.87 L498,743.08 L498.5,742.25 L499,741.38 L499.5,740.46 L500,739.51 L500.5,738.51 L501,737.46 L501.5,736.38 L502,735.25 L502.5,734.07 L503,732.85 L503.5,731.58 L504,730.27 L504.5,728.92 L505,727.52 L505.5,726.08 L506,724.59 L506.5,723.07 L507,721.5 L507.5,719.9 L508,718.25 L508.5,716.57 L509,714.86 L509.5,713.11 L510,711.34 L510.5,709.63 L511,707.9 L511.5,706.15 L512,704.37 L512.5,702.59 L513,700.78 L513.5,698.97 L514,697.15 L514.5,695.33 L515,693.51 L515.5,691.7 L516,689.9 L516.5,688.11 L517,686.33 L517.5,684.59 L518,682.86 L518.5,681.17 L519,679.52 L519.5,677.9 L520,676.33 L520.5,674.82 L521,673.35 L521.5,671.94 L522,670.6 L522.5,669.32 L523,668.11 L523.5,666.98 L524,665.93 L524.5,664.96 L525,664.08 L525.5,663.28 L526,662.58 L526.5,661.97 L527,661.46 L527.5,661.05 L528,660.74 L528.5,660.54 L529,660.43 L529.5,660.43 L530,660.54 L530.5,660.81 L531,661.25 L531.5,661.85 L532,662.62 L532.5,663.54 L533,664.61 L533.5,665.83 L534,667.18 L534.5,668.65 L535,670.24 L535.5,671.93 L536,673.71 L536.5,675.58 L537,677.51 L537.5,679.51 L538,681.56 L538.5,683.65 L539,685.77 L539.5,687.92 L540,690.09 L540.5,692.26 L541,694.44 L541.5,696.62 L542,698.79 L542.5,700.94 L543,703.07 L543.5,705.19 L544,707.27 L544.5,709.33 L545,711.35 L545.5,713.34 L546,715.29 L546.5,717.2 L547,719.07 L547.5,720.9 L548,722.68 L548.5,724.42 L549,726.11 L549.5,727.76 L550,729.35 L550.5,730.91 L551,732.41 L551.5,733.87 L552,735.28 L552.5,736.65 L553,737.97 L553.5,739.25 L554,740.48 L554.5,741.67 L555,742.81 L555.5,743.91 L556,744.98 L556.5,746 L557,746.98 L557.5,747.93 L558,748.84 L558.5,749.72 L559,750.56 L559.5,751.36 L560,752.14 L560.5,752.89 L561,753.6 L561.5,754.29 L562,754.95 L562.5,755.59 L563,756.2 L563.5,756.78 L564,757.35 L564.5,757.89 L565,758.42 L565.5,758.92 L566,759.4 L566.5,759.87 L567,760.32 L567.5,760.76 L568,761.18 L568.5,761.59 L569,761.98 L569.5,762.37 L570,762.74 L570.5,763.09 L571,763.44 L571.5,763.78 L572,764.11 L572.5,764.43 L573,764.74 L573.5,765.05 L574,765.35 L574.5,765.64 L575,765.92 L575.5,766.2 L576,766.47 L576.5,766.74 L577,767 L577.5,767.25 L578,767.51 L578.5,767.75 L579,767.95 L579.5,768.11 L580,768.27 L580.5,768.43 L581,768.58 L581.5,768.73 L582,768.88 L582.5,769.02 L583,769.16 L583.5,769.3 L584,769.43 L584.5,769.57 L585,769.7 L585.5,769.83 L586,769.95 L586.5,770.08 L587,770.2 L587.5,770.32 L588,770.44 L588.5,770.56 L589,770.67 L589.5,770.79 L590,770.9 L590.5,771.01 L591,771.12 L591.5,771.23 L592,771.33 L592.5,771.44 L593,771.54 L593.5,771.65 L594,771.75 L594.5,771.85 L595,771.95 L595.5,772.05 L596,772.14 L596.5,772.24 L597,772.33 L597.5,772.43 L598,772.52 L598.5,772.61 L599,772.7 L599.5,772.8 L600,772.88 L600.5,772.97 L601,773.06 L601.5,773.15 L602,773.24 L602.5,773.32 L603,773.41 L603.5,773.49 L604,773.57 L604.5,773.66 L605,773.75 L605.5,773.86 L606,773.97 L606.5,774.08 L607,774.19 L607.5,774.3 L608,774.41 L608.5,774.52 L609,774.62 L609.5,774.73 L610,774.84 L610.5,774.94 L611,775.05 L611.5,775.15 L612,775.26 L612.5,775.36 L613,775.46 L613.5,775.56 L614,775.67 L614.5,775.77 L615,775.87 L615.5,775.97 L616,776.07 L616.5,776.17 L617,776.27 L617.5,776.37 L618,776.47 L618.5,776.57 L619,776.67 L619.5,776.77 L620,776.86 L620.5,776.96 L621,777.06 L621.5,777.16 L622,777.25 L622.5,777.35 L623,777.44 L623.5,777.54 L624,777.64 L624.5,777.73 L625,777.83 L625.5,777.92 L626,778.01 L626.5,778.11 L627,778.2 L627.5,778.3 L628,778.39 L628.5,778.48 L629,778.58 L629.5,778.67 L630,778.76 L630.5,778.77 L631,778.77 L631.5,778.77 L632,778.78 L632.5,778.78 L633,778.79 L633.5,778.79 L634,778.79 L634.5,778.8 L635,778.8 L635.5,778.8 L636,778.81 L636.5,778.81 L637,778.81 L637.5,778.81 L638,778.82 L638.5,778.82 L639,778.82 L639.5,778.82 L640,778.82 L640.5,778.82 L641,778.82 L641.5,778.83 L642,778.83 L642.5,778.83 L643,778.83 L643.5,778.83 L644,778.83 L644.5,778.83 L645,778.83 L645.5,778.83 L646,778.83 L646.5,778.83 L647,778.83 L647.5,778.83 L648,778.83 L648.5,778.83 L649,778.82 L649.5,778.82 L650,778.82 L650.5,778.82 L651,778.82 L651.5,778.82 L652,778.82 L652.5,778.81 L653,778.81 L653.5,778.81 L654,778.81 L654.5,778.81 L655,778.81" stroke="#d42020" stroke-width="2.0" fill="none" stroke-linejoin="round" />
<path d="M399,755.23 L399.5,755.22 L400,755.22 L400.5,755.22 L401,755.22 L401.5,755.21 L402,755.21 L402.5,755.21 L403,755.21 L403.5,755.2 L404,755.2 L404.5,755.2 L405,755.2 L405.5,755.19 L406,755.19 L406.5,755.19 L407,755.19 L407.5,755.18 L408,755.18 L408.5,755.18 L409,755.18 L409.5,755.17 L410,755.17 L410.5,755.17 L411,755.17 L411.5,755.16 L412,755.16 L412.5,755.16 L413,755.16 L413.5,755.15 L414,755.15 L414.5,755.15 L415,755.14 L415.5,755.14 L416,755.14 L416.5,755.13 L417,755.13 L417.5,755.13 L418,755.13 L418.5,755.12 L419,755.12 L419.5,755.12 L420,755.11 L420.5,755.11 L421,755.11 L421.5,755.1 L422,755.1 L422.5,755.1 L423,755.09 L423.5,755.09 L424,755.09 L424.5,755.08 L425,755.08 L425.5,755.08 L426,755.07 L426.5,755.07 L427,755.06 L427.5,755.06 L428,755.06 L428.5,755.05 L429,755.05 L429.5,755.05 L430,755.04 L430.5,755.04 L431,755.03 L431.5,755.03 L432,755.03 L432.5,755.02 L433,755.02 L433.5,755.01 L434,755.01 L434.5,755 L435,755 L435.5,754.99 L436,754.99 L436.5,754.99 L437,754.98 L437.5,754.98 L438,754.97 L438.5,754.97 L439,754.96 L439.5,754.96 L440,754.95 L440.5,754.95 L441,754.94 L441.5,754.94 L442,754.93 L442.5,754.93 L443,754.92 L443.5,754.92 L444,754.91 L444.5,754.91 L445,754.9 L445.5,754.89 L446,754.89 L446.5,754.88 L447,754.88 L447.5,754.87 L448,754.87 L448.5,754.86 L449,754.85 L449.5,754.85 L450,754.84 L450.5,754.83 L451,754.83 L451.5,754.82 L452,754.82 L452.5,754.81 L453,754.8 L453.5,754.8 L454,754.8 L454.5,754.8 L455,754.81 L455.5,754.81 L456,754.82 L456.5,754.82 L457,754.83 L457.5,754.83 L458,754.84 L458.5,754.84 L459,754.84 L459.5,754.85 L460,754.85 L460.5,754.86 L461,754.86 L461.5,754.87 L462,754.87 L462.5,754.87 L463,754.88 L463.5,754.88 L464,754.88 L464.5,754.89 L465,754.89 L465.5,754.89 L466,754.9 L466.5,754.9 L467,754.9 L467.5,754.9 L468,754.91 L468.5,754.91 L469,754.91 L469.5,754.91 L470,754.91 L470.5,754.91 L471,754.92 L471.5,754.92 L472,754.92 L472.5,754.92 L473,754.92 L473.5,754.92 L474,754.92 L474.5,754.92 L475,754.92 L475.5,754.92 L476,754.92 L476.5,754.92 L477,754.92 L477.5,754.92 L478,754.92 L478.5,754.91 L479,754.91 L479.5,754.91 L480,754.91 L480.5,754.91 L481,754.9 L481.5,754.9 L482,754.9 L482.5,754.89 L483,754.89 L483.5,754.89 L484,754.88 L484.5,754.88 L485,754.87 L485.5,754.87 L486,754.86 L486.5,754.86 L487,754.85 L487.5,754.84 L488,754.84 L488.5,754.83 L489,754.82 L489.5,754.82 L490,754.81 L490.5,754.8 L491,754.8 L491.5,754.8 L492,754.79 L492.5,754.79 L493,754.78 L493.5,754.78 L494,754.77 L494.5,754.76 L495,754.76 L495.5,754.75 L496,754.74 L496.5,754.73 L497,754.72 L497.5,754.71 L498,754.7 L498.5,754.69 L499,754.68 L499.5,754.67 L500,754.66 L500.5,754.65 L501,754.63 L501.5,754.62 L502,754.6 L502.5,754.59 L503,754.57 L503.5,754.55 L504,754.54 L504.5,754.52 L505,754.5 L505.5,754.48 L506,754.46 L506.5,754.44 L507,754.41 L507.5,754.39 L508,754.37 L508.5,754.34 L509,754.31 L509.5,754.28 L510,754.26 L510.5,754.32 L511,754.39 L511.5,754.46 L512,754.52 L512.5,754.58 L513,754.64 L513.5,754.7 L514,754.76 L514.5,754.82 L515,754.87 L515.5,754.93 L516,754.98 L516.5,755.03 L517,755.07 L517.5,755.12 L518,755.16 L518.5,755.2 L519,755.23 L519.5,755.27 L520,755.3 L520.5,755.33 L521,755.35 L521.5,755.37 L522,755.38 L522.5,755.39 L523,755.4 L523.5,755.4 L524,755.39 L524.5,755.38 L525,755.36 L525.5,755.34 L526,755.3 L526.5,755.26 L527,755.21 L527.5,755.15 L528,755.08 L528.5,754.99 L529,754.9 L529.5,754.79 L530,754.66 L530.5,754.52 L531,754.37 L531.5,754.19 L532,754 L532.5,753.78 L533,753.55 L533.5,753.29 L534,753.01 L534.5,752.71 L535,752.37 L535.5,752.01 L536,751.61 L536.5,751.18 L537,750.7 L537.5,750.19 L538,749.64 L538.5,749.05 L539,748.41 L539.5,747.72 L540,746.98 L540.5,746.19 L541,745.34 L541.5,744.44 L542,743.47 L542.5,742.45 L543,741.36 L543.5,740.21 L544,738.98 L544.5,737.69 L545,736.33 L545.5,734.9 L546,733.39 L546.5,731.81 L547,730.15 L547.5,728.42 L548,726.61 L548.5,724.72 L549,722.76 L549.5,720.72 L550,718.61 L550.5,716.42 L551,714.17 L551.5,711.84 L552,709.45 L552.5,706.99 L553,704.47 L553.5,701.9 L554,699.27 L554.5,696.59 L555,693.88 L555.5,691.12 L556,688.34 L556.5,685.53 L557,682.7 L557.5,679.87 L558,677.03 L558.5,674.21 L559,671.4 L559.5,668.63 L560,665.89 L560.5,663.2 L561,660.58 L561.5,658.03 L562,655.57 L562.5,653.21 L563,650.96 L563.5,648.84 L564,646.86 L564.5,645.04 L565,643.38 L565.5,641.89 L566,640.6 L566.5,639.5 L567,638.62 L567.5,637.95 L568,637.5 L568.5,637.28 L569,637.29 L569.5,637.48 L570,637.82 L570.5,638.3 L571,638.93 L571.5,639.69 L572,640.59 L572.5,641.63 L573,642.79 L573.5,644.09 L574,645.5 L574.5,647.03 L575,648.68 L575.5,650.43 L576,652.29 L576.5,654.24 L577,656.28 L577.5,658.41 L578,660.62 L578.5,662.9 L579,665.2 L579.5,667.52 L580,669.91 L580.5,672.34 L581,674.81 L581.5,677.32 L582,679.85 L582.5,682.42 L583,684.99 L583.5,687.58 L584,690.18 L584.5,692.78 L585,695.37 L585.5,697.96 L586,700.54 L586.5,703.09 L587,705.62 L587.5,708.13 L588,710.61 L588.5,713.06 L589,715.46 L589.5,717.83 L590,720.16 L590.5,722.44 L591,724.67 L591.5,726.86 L592,728.99 L592.5,731.07 L593,733.09 L593.5,735.06 L594,736.98 L594.5,738.83 L595,740.63 L595.5,742.37 L596,744.05 L596.5,745.67 L597,747.24 L597.5,748.74 L598,750.19 L598.5,751.58 L599,752.92 L599.5,754.2 L600,755.43 L600.5,756.6 L601,757.72 L601.5,758.8 L602,759.82 L602.5,760.79 L603,761.72 L603.5,762.6 L604,763.44 L604.5,764.23 L605,765 L605.5,765.75 L606,766.45 L606.5,767.12 L607,767.76 L607.5,768.37 L608,768.94 L608.5,769.48 L609,770 L609.5,770.48 L610,770.94 L610.5,771.38 L611,771.79 L611.5,772.18 L612,772.55 L612.5,772.91 L613,773.24 L613.5,773.55 L614,773.85 L614.5,774.14 L615,774.41 L615.5,774.66 L616,774.91 L616.5,775.14 L617,775.36 L617.5,775.57 L618,775.77 L618.5,775.97 L619,776.15 L619.5,776.33 L620,776.5 L620.5,776.66 L621,776.82 L621.5,776.97 L622,777.12 L622.5,777.26 L623,777.4 L623.5,777.54 L624,777.67 L624.5,777.8 L625,777.92 L625.5,778.04 L626,778.16 L626.5,778.27 L627,778.39 L627.5,778.5 L628,778.61 L628.5,778.72 L629,778.82 L629.5,778.93 L630,779.03 L630.5,779.05 L631,779.06 L631.5,779.07 L632,779.09 L632.5,779.1 L633,779.11 L633.5,779.12 L634,779.12 L634.5,779.13 L635,779.14 L635.5,779.15 L636,779.15 L636.5,779.16 L637,779.16 L637.5,779.17 L638,779.17 L638.5,779.17 L639,779.18 L639.5,779.18 L640,779.18 L640.5,779.19 L641,779.19 L641.5,779.19 L642,779.19 L642.5,779.19 L643,779.19 L643.5,779.2 L644,779.2 L644.5,779.2 L645,779.2 L645.5,779.2 L646,779.2 L646.5,779.2 L647,779.2 L647.5,779.19 L648,779.19 L648.5,779.19 L649,779.19 L649.5,779.19 L650,779.19 L650.5,779.19 L651,779.19 L651.5,779.18 L652,779.18 L652.5,779.18 L653,779.18 L653.5,779.17 L654,779.17 L654.5,779.17 L655,779.17" stroke="#d42020" stroke-width="2.0" fill="none" stroke-linejoin="round" />
<path d="M399,755.55 L399.5,755.55 L400,755.55 L400.5,755.55 L401,755.54 L401.5,755.54 L402,755.54 L402.5,755.54 L403,755.54 L403.5,755.54 L404,755.54 L404.5,755.54 L405,755.54 L405.5,755.54 L406,755.54 L406.5,755.54 L407,755.54 L407.5,755.54 L408,755.54 L408.5,755.54 L409,755.54 L409.5,755.54 L410,755.54 L410.5,755.54 L411,755.54 L411.5,755.54 L412,755.54 L412.5,755.54 L413,755.54 L413.5,755.53 L414,755.53 L414.5,755.53 L415,755.53 L415.5,755.53 L416,755.53 L416.5,755.53 L417,755.53 L417.5,755.53 L418,755.53 L418.5,755.53 L419,755.53 L419.5,755.53 L420,755.53 L420.5,755.53 L421,755.53 L421.5,755.53 L422,755.53 L422.5,755.53 L423,755.53 L423.5,755.52 L424,755.52 L424.5,755.52 L425,755.52 L425.5,755.52 L426,755.52 L426.5,755.52 L427,755.52 L427.5,755.52 L428,755.52 L428.5,755.52 L429,755.52 L429.5,755.52 L430,755.52 L430.5,755.52 L431,755.52 L431.5,755.51 L432,755.51 L432.5,755.51 L433,755.51 L433.5,755.51 L434,755.51 L434.5,755.51 L435,755.51 L435.5,755.51 L436,755.51 L436.5,755.51 L437,755.51 L437.5,755.51 L438,755.51 L438.5,755.5 L439,755.5 L439.5,755.5 L440,755.5 L440.5,755.5 L441,755.5 L441.5,755.5 L442,755.5 L442.5,755.5 L443,755.5 L443.5,755.5 L444,755.5 L444.5,755.49 L445,755.49 L445.5,755.49 L446,755.49 L446.5,755.49 L447,755.49 L447.5,755.49 L448,755.49 L448.5,755.49 L449,755.49 L449.5,755.48 L450,755.48 L450.5,755.48 L451,755.48 L451.5,755.48 L452,755.48 L452.5,755.48 L453,755.48 L453.5,755.47 L454,755.48 L454.5,755.49 L455,755.5 L455.5,755.51 L456,755.53 L456.5,755.54 L457,755.55 L457.5,755.56 L458,755.57 L458.5,755.58 L459,755.59 L459.5,755.6 L460,755.61 L460.5,755.62 L461,755.63 L461.5,755.65 L462,755.66 L462.5,755.67 L463,755.68 L463.5,755.69 L464,755.7 L464.5,755.71 L465,755.72 L465.5,755.73 L466,755.74 L466.5,755.75 L467,755.76 L467.5,755.77 L468,755.78 L468.5,755.79 L469,755.8 L469.5,755.81 L470,755.83 L470.5,755.84 L471,755.85 L471.5,755.86 L472,755.87 L472.5,755.88 L473,755.89 L473.5,755.9 L474,755.91 L474.5,755.92 L475,755.93 L475.5,755.94 L476,755.95 L476.5,755.96 L477,755.97 L477.5,755.98 L478,755.99 L478.5,755.99 L479,756 L479.5,756.01 L480,756.02 L480.5,756.03 L481,756.04 L481.5,756.05 L482,756.06 L482.5,756.07 L483,756.08 L483.5,756.09 L484,756.1 L484.5,756.11 L485,756.11 L485.5,756.12 L486,756.13 L486.5,756.14 L487,756.15 L487.5,756.16 L488,756.17 L488.5,756.17 L489,756.18 L489.5,756.19 L490,756.2 L490.5,756.21 L491,756.22 L491.5,756.24 L492,756.25 L492.5,756.26 L493,756.27 L493.5,756.29 L494,756.3 L494.5,756.31 L495,756.32 L495.5,756.34 L496,756.35 L496.5,756.36 L497,756.37 L497.5,756.38 L498,756.39 L498.5,756.41 L499,756.42 L499.5,756.43 L500,756.44 L500.5,756.45 L501,756.46 L501.5,756.47 L502,756.48 L502.5,756.49 L503,756.5 L503.5,756.51 L504,756.52 L504.5,756.53 L505,756.53 L505.5,756.54 L506,756.55 L506.5,756.56 L507,756.57 L507.5,756.57 L508,756.58 L508.5,756.59 L509,756.59 L509.5,756.6 L510,756.61 L510.5,756.71 L511,756.81 L511.5,756.91 L512,757.02 L512.5,757.12 L513,757.22 L513.5,757.32 L514,757.42 L514.5,757.52 L515,757.62 L515.5,757.72 L516,757.81 L516.5,757.91 L517,758.01 L517.5,758.1 L518,758.2 L518.5,758.29 L519,758.39 L519.5,758.48 L520,758.57 L520.5,758.66 L521,758.75 L521.5,758.84 L522,758.93 L522.5,759.01 L523,759.1 L523.5,759.18 L524,759.26 L524.5,759.34 L525,759.42 L525.5,759.5 L526,759.57 L526.5,759.64 L527,759.71 L527.5,759.78 L528,759.84 L528.5,759.9 L529,759.95 L529.5,760 L530,760.04 L530.5,760.07 L531,760.1 L531.5,760.12 L532,760.13 L532.5,760.13 L533,760.12 L533.5,760.1 L534,760.06 L534.5,760.01 L535,759.94 L535.5,759.84 L536,759.72 L536.5,759.58 L537,759.4 L537.5,759.19 L538,758.95 L538.5,758.67 L539,758.34 L539.5,757.97 L540,757.55 L540.5,757.08 L541,756.56 L541.5,755.98 L542,755.34 L542.5,754.64 L543,753.88 L543.5,753.05 L544,752.16 L544.5,751.21 L545,750.19 L545.5,749.11 L546,747.97 L546.5,746.77 L547,745.53 L547.5,744.24 L548,742.9 L548.5,741.54 L549,740.15 L549.5,738.76 L550,737.36 L550.5,735.97 L551,734.61 L551.5,733.28 L552,732.02 L552.5,730.83 L553,729.74 L553.5,728.76 L554,727.91 L554.5,727.21 L555,726.67 L555.5,726.32 L556,726.15 L556.5,726.17 L557,726.4 L557.5,726.82 L558,727.42 L558.5,728.21 L559,729.16 L559.5,730.25 L560,731.48 L560.5,732.83 L561,734.26 L561.5,735.77 L562,737.34 L562.5,738.95 L563,740.59 L563.5,742.24 L564,743.88 L564.5,745.52 L565,747.13 L565.5,748.71 L566,750.25 L566.5,751.74 L567,753.18 L567.5,754.56 L568,755.88 L568.5,757.14 L569,758.33 L569.5,759.45 L570,760.51 L570.5,761.5 L571,762.42 L571.5,763.27 L572,764.05 L572.5,764.77 L573,765.41 L573.5,766 L574,766.51 L574.5,766.97 L575,767.35 L575.5,767.67 L576,767.92 L576.5,768.11 L577,768.22 L577.5,768.26 L578,768.22 L578.5,768.1 L579,767.85 L579.5,767.49 L580,767.03 L580.5,766.48 L581,765.82 L581.5,765.07 L582,764.21 L582.5,763.24 L583,762.15 L583.5,760.96 L584,759.66 L584.5,758.25 L585,756.73 L585.5,755.11 L586,753.41 L586.5,751.62 L587,749.75 L587.5,747.84 L588,745.88 L588.5,743.89 L589,741.9 L589.5,739.92 L590,737.97 L590.5,736.09 L591,734.28 L591.5,732.57 L592,730.99 L592.5,729.55 L593,728.27 L593.5,727.18 L594,726.28 L594.5,725.59 L595,725.13 L595.5,724.89 L596,724.89 L596.5,725.12 L597,725.58 L597.5,726.27 L598,727.18 L598.5,728.3 L599,729.6 L599.5,731.08 L600,732.72 L600.5,734.49 L601,736.38 L601.5,738.36 L602,740.42 L602.5,742.52 L603,744.65 L603.5,746.79 L604,748.91 L604.5,751 L605,753.06 L605.5,755.08 L606,757.02 L606.5,758.88 L607,760.65 L607.5,762.32 L608,763.89 L608.5,765.35 L609,766.71 L609.5,767.96 L610,769.11 L610.5,770.17 L611,771.12 L611.5,771.99 L612,772.77 L612.5,773.48 L613,774.1 L613.5,774.67 L614,775.17 L614.5,775.61 L615,776 L615.5,776.35 L616,776.66 L616.5,776.94 L617,777.18 L617.5,777.4 L618,777.6 L618.5,777.78 L619,777.94 L619.5,778.09 L620,778.22 L620.5,778.35 L621,778.46 L621.5,778.57 L622,778.68 L622.5,778.78 L623,778.87 L623.5,778.96 L624,779.05 L624.5,779.14 L625,779.23 L625.5,779.31 L626,779.4 L626.5,779.48 L627,779.57 L627.5,779.65 L628,779.73 L628.5,779.81 L629,779.89 L629.5,779.97 L630,780.06 L630.5,780.05 L631,780.04 L631.5,780.04 L632,780.03 L632.5,780.02 L633,780.01 L633.5,780.01 L634,780 L634.5,779.99 L635,779.99 L635.5,779.98 L636,779.97 L636.5,779.96 L637,779.96 L637.5,779.95 L638,779.94 L638.5,779.93 L639,779.93 L639.5,779.92 L640,779.91 L640.5,779.9 L641,779.89 L641.5,779.89 L642,779.88 L642.5,779.87 L643,779.86 L643.5,779.86 L644,779.85 L644.5,779.84 L645,779.83 L645.5,779.82 L646,779.81 L646.5,779.81 L647,779.8 L647.5,779.79 L648,779.78 L648.5,779.77 L649,779.77 L649.5,779.76 L650,779.75 L650.5,779.74 L651,779.73 L651.5,779.72 L652,779.71 L652.5,779.71 L653,779.7 L653.5,779.69 L654,779.68 L654.5,779.67 L655,779.66" stroke="#2018c8" stroke-width="2.0" fill="none" stroke-linejoin="round" />
<path d="M399,755.6 L403.18,755.33 L409.14,754.97 L416.11,754.54 L423.34,754.04 L430.05,753.49 L435.5,752.9 L439.65,752.21 L443.12,751.4 L446.08,750.54 L448.71,749.7 L451.19,748.93 L453.7,748.3 L456.23,747.8 L458.64,747.38 L460.89,747.03 L462.97,746.77 L464.85,746.59 L466.5,746.5 L467.8,746.5 L468.74,746.6 L469.48,746.77 L470.17,747.04 L470.96,747.38 L472,747.8 L473.31,748.35 L474.77,749.04 L476.32,749.81 L477.93,750.6 L479.54,751.35 L481.1,752 L482.62,752.56 L484.13,753.08 L485.65,753.56 L487.17,753.99 L488.68,754.37 L490.2,754.7 L491.7,754.95 L493.17,755.11 L494.65,755.22 L496.15,755.31 L497.69,755.43 L499.3,755.6 L501.01,755.82 L502.81,756.06 L504.66,756.33 L506.5,756.6 L508.3,756.9 L510,757.2 L511.54,757.51 L512.94,757.82 L514.3,758.15 L515.7,758.5 L517.24,758.88 L519,759.3 L520.93,759.74 L522.94,760.19 L525.08,760.67 L527.42,761.21 L530.01,761.81 L532.9,762.5 L536.2,763.31 L539.87,764.21 L543.79,765.19 L547.83,766.21 L551.88,767.22 L555.8,768.2 L559.58,769.19 L563.31,770.22 L567.05,771.25 L570.83,772.24 L574.7,773.14 L578.7,773.9 L582.88,774.49 L587.2,774.95 L591.61,775.31 L596.05,775.64 L600.47,775.99 L604.8,776.4 L609.05,776.91 L613.27,777.49 L617.47,778.09 L621.65,778.65 L625.82,779.14 L630,779.5 L634.47,779.72 L639.27,779.82 L644.08,779.84 L648.53,779.83 L652.28,779.8 L655,779.8" stroke="#28963c" stroke-width="2.0" fill="none" stroke-linejoin="round" />
<text x="414.6" y="60.5" font-size="18" fill="#222">Cd 3d</text>
<text x="55.2" y="340.5" font-size="18" fill="#222">S 2p</text>
<text x="414.3" y="340.2" font-size="18" fill="#222">O 1s</text>
<text x="68.5" y="622.9" font-size="18" fill="#222">C 1s</text>
<text x="414.8" y="622.3" font-size="18" fill="#222">W 4f</text>
</svg>
</body></html>
